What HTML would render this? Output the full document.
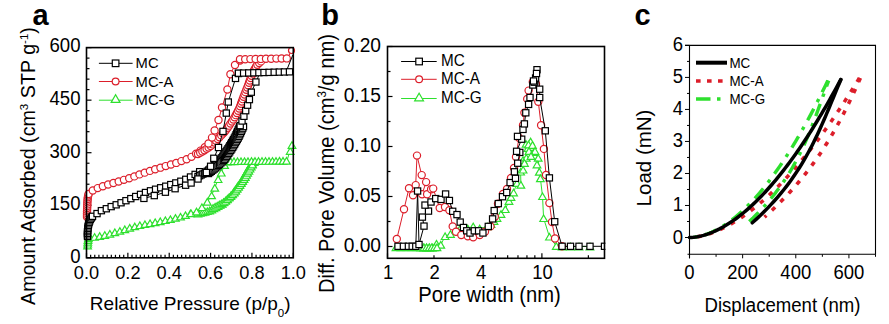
<!DOCTYPE html><html><head><meta charset="utf-8"><style>html,body{margin:0;padding:0;background:#fff;width:889px;height:324px;overflow:hidden}svg{display:block}</style></head><body><svg width="889" height="324" viewBox="0 0 889 324" font-family="Liberation Sans, sans-serif">
<rect width="889" height="324" fill="#fff"/>
<line x1="86.5" y1="257.8" x2="86.5" y2="252.8" stroke="#000000" stroke-width="1.2"/>
<line x1="90.64" y1="257.8" x2="90.64" y2="254.8" stroke="#000000" stroke-width="1.2"/>
<line x1="94.77" y1="257.8" x2="94.77" y2="254.8" stroke="#000000" stroke-width="1.2"/>
<line x1="98.91" y1="257.8" x2="98.91" y2="254.8" stroke="#000000" stroke-width="1.2"/>
<line x1="103.04" y1="257.8" x2="103.04" y2="254.8" stroke="#000000" stroke-width="1.2"/>
<line x1="107.18" y1="257.8" x2="107.18" y2="254.8" stroke="#000000" stroke-width="1.2"/>
<line x1="111.32" y1="257.8" x2="111.32" y2="254.8" stroke="#000000" stroke-width="1.2"/>
<line x1="115.45" y1="257.8" x2="115.45" y2="254.8" stroke="#000000" stroke-width="1.2"/>
<line x1="119.59" y1="257.8" x2="119.59" y2="254.8" stroke="#000000" stroke-width="1.2"/>
<line x1="123.72" y1="257.8" x2="123.72" y2="254.8" stroke="#000000" stroke-width="1.2"/>
<line x1="127.86" y1="257.8" x2="127.86" y2="252.8" stroke="#000000" stroke-width="1.2"/>
<line x1="132" y1="257.8" x2="132" y2="254.8" stroke="#000000" stroke-width="1.2"/>
<line x1="136.13" y1="257.8" x2="136.13" y2="254.8" stroke="#000000" stroke-width="1.2"/>
<line x1="140.27" y1="257.8" x2="140.27" y2="254.8" stroke="#000000" stroke-width="1.2"/>
<line x1="144.4" y1="257.8" x2="144.4" y2="254.8" stroke="#000000" stroke-width="1.2"/>
<line x1="148.54" y1="257.8" x2="148.54" y2="254.8" stroke="#000000" stroke-width="1.2"/>
<line x1="152.68" y1="257.8" x2="152.68" y2="254.8" stroke="#000000" stroke-width="1.2"/>
<line x1="156.81" y1="257.8" x2="156.81" y2="254.8" stroke="#000000" stroke-width="1.2"/>
<line x1="160.95" y1="257.8" x2="160.95" y2="254.8" stroke="#000000" stroke-width="1.2"/>
<line x1="165.08" y1="257.8" x2="165.08" y2="254.8" stroke="#000000" stroke-width="1.2"/>
<line x1="169.22" y1="257.8" x2="169.22" y2="252.8" stroke="#000000" stroke-width="1.2"/>
<line x1="173.36" y1="257.8" x2="173.36" y2="254.8" stroke="#000000" stroke-width="1.2"/>
<line x1="177.49" y1="257.8" x2="177.49" y2="254.8" stroke="#000000" stroke-width="1.2"/>
<line x1="181.63" y1="257.8" x2="181.63" y2="254.8" stroke="#000000" stroke-width="1.2"/>
<line x1="185.76" y1="257.8" x2="185.76" y2="254.8" stroke="#000000" stroke-width="1.2"/>
<line x1="189.9" y1="257.8" x2="189.9" y2="254.8" stroke="#000000" stroke-width="1.2"/>
<line x1="194.04" y1="257.8" x2="194.04" y2="254.8" stroke="#000000" stroke-width="1.2"/>
<line x1="198.17" y1="257.8" x2="198.17" y2="254.8" stroke="#000000" stroke-width="1.2"/>
<line x1="202.31" y1="257.8" x2="202.31" y2="254.8" stroke="#000000" stroke-width="1.2"/>
<line x1="206.44" y1="257.8" x2="206.44" y2="254.8" stroke="#000000" stroke-width="1.2"/>
<line x1="210.58" y1="257.8" x2="210.58" y2="252.8" stroke="#000000" stroke-width="1.2"/>
<line x1="214.72" y1="257.8" x2="214.72" y2="254.8" stroke="#000000" stroke-width="1.2"/>
<line x1="218.85" y1="257.8" x2="218.85" y2="254.8" stroke="#000000" stroke-width="1.2"/>
<line x1="222.99" y1="257.8" x2="222.99" y2="254.8" stroke="#000000" stroke-width="1.2"/>
<line x1="227.12" y1="257.8" x2="227.12" y2="254.8" stroke="#000000" stroke-width="1.2"/>
<line x1="231.26" y1="257.8" x2="231.26" y2="254.8" stroke="#000000" stroke-width="1.2"/>
<line x1="235.4" y1="257.8" x2="235.4" y2="254.8" stroke="#000000" stroke-width="1.2"/>
<line x1="239.53" y1="257.8" x2="239.53" y2="254.8" stroke="#000000" stroke-width="1.2"/>
<line x1="243.67" y1="257.8" x2="243.67" y2="254.8" stroke="#000000" stroke-width="1.2"/>
<line x1="247.8" y1="257.8" x2="247.8" y2="254.8" stroke="#000000" stroke-width="1.2"/>
<line x1="251.94" y1="257.8" x2="251.94" y2="252.8" stroke="#000000" stroke-width="1.2"/>
<line x1="256.08" y1="257.8" x2="256.08" y2="254.8" stroke="#000000" stroke-width="1.2"/>
<line x1="260.21" y1="257.8" x2="260.21" y2="254.8" stroke="#000000" stroke-width="1.2"/>
<line x1="264.35" y1="257.8" x2="264.35" y2="254.8" stroke="#000000" stroke-width="1.2"/>
<line x1="268.48" y1="257.8" x2="268.48" y2="254.8" stroke="#000000" stroke-width="1.2"/>
<line x1="272.62" y1="257.8" x2="272.62" y2="254.8" stroke="#000000" stroke-width="1.2"/>
<line x1="276.76" y1="257.8" x2="276.76" y2="254.8" stroke="#000000" stroke-width="1.2"/>
<line x1="280.89" y1="257.8" x2="280.89" y2="254.8" stroke="#000000" stroke-width="1.2"/>
<line x1="285.03" y1="257.8" x2="285.03" y2="254.8" stroke="#000000" stroke-width="1.2"/>
<line x1="289.16" y1="257.8" x2="289.16" y2="254.8" stroke="#000000" stroke-width="1.2"/>
<line x1="293.3" y1="257.8" x2="293.3" y2="252.8" stroke="#000000" stroke-width="1.2"/>
<line x1="86.5" y1="257.8" x2="91.5" y2="257.8" stroke="#000000" stroke-width="1.2"/>
<line x1="86.5" y1="247.29" x2="89.5" y2="247.29" stroke="#000000" stroke-width="1.2"/>
<line x1="86.5" y1="236.78" x2="89.5" y2="236.78" stroke="#000000" stroke-width="1.2"/>
<line x1="86.5" y1="226.27" x2="89.5" y2="226.27" stroke="#000000" stroke-width="1.2"/>
<line x1="86.5" y1="215.76" x2="89.5" y2="215.76" stroke="#000000" stroke-width="1.2"/>
<line x1="86.5" y1="205.25" x2="91.5" y2="205.25" stroke="#000000" stroke-width="1.2"/>
<line x1="86.5" y1="194.74" x2="89.5" y2="194.74" stroke="#000000" stroke-width="1.2"/>
<line x1="86.5" y1="184.23" x2="89.5" y2="184.23" stroke="#000000" stroke-width="1.2"/>
<line x1="86.5" y1="173.72" x2="89.5" y2="173.72" stroke="#000000" stroke-width="1.2"/>
<line x1="86.5" y1="163.21" x2="89.5" y2="163.21" stroke="#000000" stroke-width="1.2"/>
<line x1="86.5" y1="152.7" x2="91.5" y2="152.7" stroke="#000000" stroke-width="1.2"/>
<line x1="86.5" y1="142.19" x2="89.5" y2="142.19" stroke="#000000" stroke-width="1.2"/>
<line x1="86.5" y1="131.68" x2="89.5" y2="131.68" stroke="#000000" stroke-width="1.2"/>
<line x1="86.5" y1="121.17" x2="89.5" y2="121.17" stroke="#000000" stroke-width="1.2"/>
<line x1="86.5" y1="110.66" x2="89.5" y2="110.66" stroke="#000000" stroke-width="1.2"/>
<line x1="86.5" y1="100.15" x2="91.5" y2="100.15" stroke="#000000" stroke-width="1.2"/>
<line x1="86.5" y1="89.64" x2="89.5" y2="89.64" stroke="#000000" stroke-width="1.2"/>
<line x1="86.5" y1="79.13" x2="89.5" y2="79.13" stroke="#000000" stroke-width="1.2"/>
<line x1="86.5" y1="68.62" x2="89.5" y2="68.62" stroke="#000000" stroke-width="1.2"/>
<line x1="86.5" y1="58.11" x2="89.5" y2="58.11" stroke="#000000" stroke-width="1.2"/>
<line x1="86.5" y1="47.6" x2="91.5" y2="47.6" stroke="#000000" stroke-width="1.2"/>
<polyline points="87.6,245.5 87.8,241.5 88.3,238.5 89.5,236.5 92,237.2 96,236.8 100,236 104,235.2 110,233.7 116,232 121,230.6 132,227 143,224.5 157,222 171,219 183,216 191,213.2" fill="none" stroke="#2ee02e" stroke-width="1.0" stroke-linejoin="round" />
<polyline points="191,213.2 196.5,211.6 201.9,207.2 207.3,201.8 211.6,195.4 214.8,187.8 218.1,179.2 221.3,172.7 224.6,165.1 227,161.3" fill="none" stroke="#2ee02e" stroke-width="1.0" stroke-linejoin="round" />
<polyline points="198,213.5 210,210.5 222,204 232,194.5 241.5,181 250,166 255,161.5" fill="none" stroke="#2ee02e" stroke-width="1.0" stroke-linejoin="round" />
<polyline points="227,161.3 287,160.8" fill="none" stroke="#2ee02e" stroke-width="1.0" stroke-linejoin="round" />
<polyline points="287,160.8 292.4,142.3" fill="none" stroke="#2ee02e" stroke-width="1.0" stroke-linejoin="round" />
<path d="M83.8,248.79 L87.6,242.21 L91.4,248.79 Z" fill="#fff" stroke="#2ee02e" stroke-width="1.2"/>
<path d="M83.89,246.99 L87.69,240.41 L91.49,246.99 Z" fill="#fff" stroke="#2ee02e" stroke-width="1.2"/>
<path d="M83.98,245.2 L87.78,238.61 L91.58,245.2 Z" fill="#fff" stroke="#2ee02e" stroke-width="1.2"/>
<path d="M84.23,243.41 L88.03,236.83 L91.83,243.41 Z" fill="#fff" stroke="#2ee02e" stroke-width="1.2"/>
<path d="M84.58,241.66 L88.38,235.08 L92.18,241.66 Z" fill="#fff" stroke="#2ee02e" stroke-width="1.2"/>
<path d="M85.51,240.12 L89.31,233.53 L93.11,240.12 Z" fill="#fff" stroke="#2ee02e" stroke-width="1.2"/>
<path d="M85.7,239.79 L89.5,233.21 L93.3,239.79 Z" fill="#fff" stroke="#2ee02e" stroke-width="1.2"/>
<path d="M90.79,240.23 L94.59,233.65 L98.39,240.23 Z" fill="#fff" stroke="#2ee02e" stroke-width="1.2"/>
<path d="M95.91,239.35 L99.71,232.77 L103.51,239.35 Z" fill="#fff" stroke="#2ee02e" stroke-width="1.2"/>
<path d="M101,238.29 L104.8,231.71 L108.6,238.29 Z" fill="#fff" stroke="#2ee02e" stroke-width="1.2"/>
<path d="M106.05,237.03 L109.85,230.45 L113.65,237.03 Z" fill="#fff" stroke="#2ee02e" stroke-width="1.2"/>
<path d="M111.05,235.62 L114.85,229.04 L118.65,235.62 Z" fill="#fff" stroke="#2ee02e" stroke-width="1.2"/>
<path d="M116.06,234.21 L119.86,227.63 L123.66,234.21 Z" fill="#fff" stroke="#2ee02e" stroke-width="1.2"/>
<path d="M121.01,232.64 L124.81,226.06 L128.61,232.64 Z" fill="#fff" stroke="#2ee02e" stroke-width="1.2"/>
<path d="M125.96,231.03 L129.76,224.44 L133.56,231.03 Z" fill="#fff" stroke="#2ee02e" stroke-width="1.2"/>
<path d="M130.97,229.66 L134.77,223.08 L138.57,229.66 Z" fill="#fff" stroke="#2ee02e" stroke-width="1.2"/>
<path d="M136.04,228.51 L139.84,221.93 L143.64,228.51 Z" fill="#fff" stroke="#2ee02e" stroke-width="1.2"/>
<path d="M141.13,227.45 L144.93,220.87 L148.73,227.45 Z" fill="#fff" stroke="#2ee02e" stroke-width="1.2"/>
<path d="M146.25,226.53 L150.05,219.95 L153.85,226.53 Z" fill="#fff" stroke="#2ee02e" stroke-width="1.2"/>
<path d="M151.37,225.62 L155.17,219.04 L158.97,225.62 Z" fill="#fff" stroke="#2ee02e" stroke-width="1.2"/>
<path d="M156.46,224.59 L160.26,218.01 L164.06,224.59 Z" fill="#fff" stroke="#2ee02e" stroke-width="1.2"/>
<path d="M161.55,223.5 L165.35,216.92 L169.15,223.5 Z" fill="#fff" stroke="#2ee02e" stroke-width="1.2"/>
<path d="M166.63,222.41 L170.43,215.83 L174.23,222.41 Z" fill="#fff" stroke="#2ee02e" stroke-width="1.2"/>
<path d="M171.68,221.17 L175.48,214.59 L179.28,221.17 Z" fill="#fff" stroke="#2ee02e" stroke-width="1.2"/>
<path d="M176.73,219.91 L180.53,213.33 L184.33,219.91 Z" fill="#fff" stroke="#2ee02e" stroke-width="1.2"/>
<path d="M181.7,218.42 L185.5,211.83 L189.3,218.42 Z" fill="#fff" stroke="#2ee02e" stroke-width="1.2"/>
<path d="M186.61,216.7 L190.41,210.12 L194.21,216.7 Z" fill="#fff" stroke="#2ee02e" stroke-width="1.2"/>
<path d="M194.2,216.79 L198,210.21 L201.8,216.79 Z" fill="#fff" stroke="#2ee02e" stroke-width="1.2"/>
<path d="M196.53,216.21 L200.33,209.63 L204.13,216.21 Z" fill="#fff" stroke="#2ee02e" stroke-width="1.2"/>
<path d="M198.86,215.63 L202.66,209.05 L206.46,215.63 Z" fill="#fff" stroke="#2ee02e" stroke-width="1.2"/>
<path d="M201.19,215.04 L204.99,208.46 L208.79,215.04 Z" fill="#fff" stroke="#2ee02e" stroke-width="1.2"/>
<path d="M203.51,214.46 L207.31,207.88 L211.11,214.46 Z" fill="#fff" stroke="#2ee02e" stroke-width="1.2"/>
<path d="M205.84,213.88 L209.64,207.3 L213.44,213.88 Z" fill="#fff" stroke="#2ee02e" stroke-width="1.2"/>
<path d="M207.99,212.82 L211.79,206.24 L215.59,212.82 Z" fill="#fff" stroke="#2ee02e" stroke-width="1.2"/>
<path d="M210.1,211.68 L213.9,205.1 L217.7,211.68 Z" fill="#fff" stroke="#2ee02e" stroke-width="1.2"/>
<path d="M212.21,210.54 L216.01,203.96 L219.81,210.54 Z" fill="#fff" stroke="#2ee02e" stroke-width="1.2"/>
<path d="M214.32,209.39 L218.12,202.81 L221.92,209.39 Z" fill="#fff" stroke="#2ee02e" stroke-width="1.2"/>
<path d="M216.43,208.25 L220.23,201.67 L224.03,208.25 Z" fill="#fff" stroke="#2ee02e" stroke-width="1.2"/>
<path d="M218.48,207.03 L222.28,200.45 L226.08,207.03 Z" fill="#fff" stroke="#2ee02e" stroke-width="1.2"/>
<path d="M220.22,205.37 L224.02,198.79 L227.82,205.37 Z" fill="#fff" stroke="#2ee02e" stroke-width="1.2"/>
<path d="M221.96,203.72 L225.76,197.14 L229.56,203.72 Z" fill="#fff" stroke="#2ee02e" stroke-width="1.2"/>
<path d="M223.7,202.07 L227.5,195.49 L231.3,202.07 Z" fill="#fff" stroke="#2ee02e" stroke-width="1.2"/>
<path d="M225.44,200.41 L229.24,193.83 L233.04,200.41 Z" fill="#fff" stroke="#2ee02e" stroke-width="1.2"/>
<path d="M227.18,198.76 L230.98,192.18 L234.78,198.76 Z" fill="#fff" stroke="#2ee02e" stroke-width="1.2"/>
<path d="M228.77,196.98 L232.57,190.4 L236.37,196.98 Z" fill="#fff" stroke="#2ee02e" stroke-width="1.2"/>
<path d="M230.15,195.02 L233.95,188.44 L237.75,195.02 Z" fill="#fff" stroke="#2ee02e" stroke-width="1.2"/>
<path d="M231.53,193.06 L235.33,186.47 L239.13,193.06 Z" fill="#fff" stroke="#2ee02e" stroke-width="1.2"/>
<path d="M232.91,191.09 L236.71,184.51 L240.51,191.09 Z" fill="#fff" stroke="#2ee02e" stroke-width="1.2"/>
<path d="M234.29,189.13 L238.09,182.55 L241.89,189.13 Z" fill="#fff" stroke="#2ee02e" stroke-width="1.2"/>
<path d="M235.68,187.17 L239.48,180.59 L243.28,187.17 Z" fill="#fff" stroke="#2ee02e" stroke-width="1.2"/>
<path d="M237.06,185.2 L240.86,178.62 L244.66,185.2 Z" fill="#fff" stroke="#2ee02e" stroke-width="1.2"/>
<path d="M238.33,183.17 L242.13,176.59 L245.93,183.17 Z" fill="#fff" stroke="#2ee02e" stroke-width="1.2"/>
<path d="M239.52,181.09 L243.32,174.51 L247.12,181.09 Z" fill="#fff" stroke="#2ee02e" stroke-width="1.2"/>
<path d="M240.7,179 L244.5,172.42 L248.3,179 Z" fill="#fff" stroke="#2ee02e" stroke-width="1.2"/>
<path d="M241.88,176.91 L245.68,170.33 L249.48,176.91 Z" fill="#fff" stroke="#2ee02e" stroke-width="1.2"/>
<path d="M243.07,174.82 L246.87,168.24 L250.67,174.82 Z" fill="#fff" stroke="#2ee02e" stroke-width="1.2"/>
<path d="M244.25,172.73 L248.05,166.15 L251.85,172.73 Z" fill="#fff" stroke="#2ee02e" stroke-width="1.2"/>
<path d="M245.43,170.65 L249.23,164.06 L253.03,170.65 Z" fill="#fff" stroke="#2ee02e" stroke-width="1.2"/>
<path d="M246.83,168.73 L250.63,162.15 L254.43,168.73 Z" fill="#fff" stroke="#2ee02e" stroke-width="1.2"/>
<path d="M248.61,167.12 L252.41,160.54 L256.21,167.12 Z" fill="#fff" stroke="#2ee02e" stroke-width="1.2"/>
<path d="M250.39,165.52 L254.19,158.94 L257.99,165.52 Z" fill="#fff" stroke="#2ee02e" stroke-width="1.2"/>
<polyline points="213,208 225,201.5 235,192 244.5,178.5 253,163.5 258,159" fill="none" stroke="#2ee02e" stroke-width="1.0" stroke-linejoin="round" />
<path d="M209.2,211.29 L213,204.71 L216.8,211.29 Z" fill="#fff" stroke="#2ee02e" stroke-width="1.2"/>
<path d="M211.31,210.15 L215.11,203.57 L218.91,210.15 Z" fill="#fff" stroke="#2ee02e" stroke-width="1.2"/>
<path d="M213.42,209 L217.22,202.42 L221.02,209 Z" fill="#fff" stroke="#2ee02e" stroke-width="1.2"/>
<path d="M215.53,207.86 L219.33,201.28 L223.13,207.86 Z" fill="#fff" stroke="#2ee02e" stroke-width="1.2"/>
<path d="M217.64,206.72 L221.44,200.14 L225.24,206.72 Z" fill="#fff" stroke="#2ee02e" stroke-width="1.2"/>
<path d="M219.75,205.58 L223.55,198.99 L227.35,205.58 Z" fill="#fff" stroke="#2ee02e" stroke-width="1.2"/>
<path d="M221.75,204.27 L225.55,197.69 L229.35,204.27 Z" fill="#fff" stroke="#2ee02e" stroke-width="1.2"/>
<path d="M223.49,202.62 L227.29,196.04 L231.09,202.62 Z" fill="#fff" stroke="#2ee02e" stroke-width="1.2"/>
<path d="M225.23,200.97 L229.03,194.38 L232.83,200.97 Z" fill="#fff" stroke="#2ee02e" stroke-width="1.2"/>
<path d="M226.97,199.31 L230.77,192.73 L234.57,199.31 Z" fill="#fff" stroke="#2ee02e" stroke-width="1.2"/>
<path d="M228.71,197.66 L232.51,191.08 L236.31,197.66 Z" fill="#fff" stroke="#2ee02e" stroke-width="1.2"/>
<path d="M230.45,196.01 L234.25,189.43 L238.05,196.01 Z" fill="#fff" stroke="#2ee02e" stroke-width="1.2"/>
<path d="M231.98,194.18 L235.78,187.6 L239.58,194.18 Z" fill="#fff" stroke="#2ee02e" stroke-width="1.2"/>
<path d="M233.36,192.22 L237.16,185.63 L240.96,192.22 Z" fill="#fff" stroke="#2ee02e" stroke-width="1.2"/>
<path d="M234.74,190.25 L238.54,183.67 L242.34,190.25 Z" fill="#fff" stroke="#2ee02e" stroke-width="1.2"/>
<path d="M236.13,188.29 L239.93,181.71 L243.73,188.29 Z" fill="#fff" stroke="#2ee02e" stroke-width="1.2"/>
<path d="M237.51,186.33 L241.31,179.75 L245.11,186.33 Z" fill="#fff" stroke="#2ee02e" stroke-width="1.2"/>
<path d="M238.89,184.37 L242.69,177.78 L246.49,184.37 Z" fill="#fff" stroke="#2ee02e" stroke-width="1.2"/>
<path d="M240.27,182.4 L244.07,175.82 L247.87,182.4 Z" fill="#fff" stroke="#2ee02e" stroke-width="1.2"/>
<path d="M241.51,180.35 L245.31,173.77 L249.11,180.35 Z" fill="#fff" stroke="#2ee02e" stroke-width="1.2"/>
<path d="M242.7,178.27 L246.5,171.68 L250.3,178.27 Z" fill="#fff" stroke="#2ee02e" stroke-width="1.2"/>
<path d="M243.88,176.18 L247.68,169.6 L251.48,176.18 Z" fill="#fff" stroke="#2ee02e" stroke-width="1.2"/>
<path d="M245.06,174.09 L248.86,167.51 L252.66,174.09 Z" fill="#fff" stroke="#2ee02e" stroke-width="1.2"/>
<path d="M246.25,172 L250.05,165.42 L253.85,172 Z" fill="#fff" stroke="#2ee02e" stroke-width="1.2"/>
<path d="M247.43,169.91 L251.23,163.33 L255.03,169.91 Z" fill="#fff" stroke="#2ee02e" stroke-width="1.2"/>
<path d="M248.61,167.83 L252.41,161.24 L256.21,167.83 Z" fill="#fff" stroke="#2ee02e" stroke-width="1.2"/>
<path d="M187.2,216.49 L191,209.91 L194.8,216.49 Z" fill="#fff" stroke="#2ee02e" stroke-width="1.2"/>
<path d="M192.7,214.89 L196.5,208.31 L200.3,214.89 Z" fill="#fff" stroke="#2ee02e" stroke-width="1.2"/>
<path d="M198.1,210.49 L201.9,203.91 L205.7,210.49 Z" fill="#fff" stroke="#2ee02e" stroke-width="1.2"/>
<path d="M203.5,205.09 L207.3,198.51 L211.1,205.09 Z" fill="#fff" stroke="#2ee02e" stroke-width="1.2"/>
<path d="M207.8,198.69 L211.6,192.11 L215.4,198.69 Z" fill="#fff" stroke="#2ee02e" stroke-width="1.2"/>
<path d="M211,191.09 L214.8,184.51 L218.6,191.09 Z" fill="#fff" stroke="#2ee02e" stroke-width="1.2"/>
<path d="M214.3,182.49 L218.1,175.91 L221.9,182.49 Z" fill="#fff" stroke="#2ee02e" stroke-width="1.2"/>
<path d="M217.5,175.99 L221.3,169.41 L225.1,175.99 Z" fill="#fff" stroke="#2ee02e" stroke-width="1.2"/>
<path d="M220.8,168.39 L224.6,161.81 L228.4,168.39 Z" fill="#fff" stroke="#2ee02e" stroke-width="1.2"/>
<path d="M223.2,164.59 L227,158.01 L230.8,164.59 Z" fill="#fff" stroke="#2ee02e" stroke-width="1.2"/>
<path d="M223.2,164.59 L227,158.01 L230.8,164.59 Z" fill="#fff" stroke="#2ee02e" stroke-width="1.2"/>
<path d="M226.7,164.56 L230.5,157.98 L234.3,164.56 Z" fill="#fff" stroke="#2ee02e" stroke-width="1.2"/>
<path d="M230.2,164.53 L234,157.95 L237.8,164.53 Z" fill="#fff" stroke="#2ee02e" stroke-width="1.2"/>
<path d="M233.7,164.5 L237.5,157.92 L241.3,164.5 Z" fill="#fff" stroke="#2ee02e" stroke-width="1.2"/>
<path d="M237.2,164.47 L241,157.89 L244.8,164.47 Z" fill="#fff" stroke="#2ee02e" stroke-width="1.2"/>
<path d="M240.7,164.44 L244.5,157.86 L248.3,164.44 Z" fill="#fff" stroke="#2ee02e" stroke-width="1.2"/>
<path d="M244.2,164.42 L248,157.83 L251.8,164.42 Z" fill="#fff" stroke="#2ee02e" stroke-width="1.2"/>
<path d="M247.7,164.39 L251.5,157.81 L255.3,164.39 Z" fill="#fff" stroke="#2ee02e" stroke-width="1.2"/>
<path d="M251.2,164.36 L255,157.78 L258.8,164.36 Z" fill="#fff" stroke="#2ee02e" stroke-width="1.2"/>
<path d="M254.7,164.33 L258.5,157.75 L262.3,164.33 Z" fill="#fff" stroke="#2ee02e" stroke-width="1.2"/>
<path d="M258.2,164.3 L262,157.72 L265.8,164.3 Z" fill="#fff" stroke="#2ee02e" stroke-width="1.2"/>
<path d="M261.7,164.27 L265.5,157.69 L269.3,164.27 Z" fill="#fff" stroke="#2ee02e" stroke-width="1.2"/>
<path d="M265.2,164.24 L269,157.66 L272.8,164.24 Z" fill="#fff" stroke="#2ee02e" stroke-width="1.2"/>
<path d="M268.7,164.21 L272.5,157.63 L276.3,164.21 Z" fill="#fff" stroke="#2ee02e" stroke-width="1.2"/>
<path d="M272.2,164.18 L276,157.6 L279.8,164.18 Z" fill="#fff" stroke="#2ee02e" stroke-width="1.2"/>
<path d="M275.7,164.15 L279.5,157.57 L283.3,164.15 Z" fill="#fff" stroke="#2ee02e" stroke-width="1.2"/>
<path d="M279.2,164.12 L283,157.54 L286.8,164.12 Z" fill="#fff" stroke="#2ee02e" stroke-width="1.2"/>
<path d="M282.7,164.09 L286.5,157.51 L290.3,164.09 Z" fill="#fff" stroke="#2ee02e" stroke-width="1.2"/>
<path d="M286.4,154.29 L290.2,147.71 L294,154.29 Z" fill="#fff" stroke="#2ee02e" stroke-width="1.2"/>
<path d="M288.2,148.29 L292,141.71 L295.8,148.29 Z" fill="#fff" stroke="#2ee02e" stroke-width="1.2"/>
<polyline points="87,217 87,212 87.2,207 87.4,202 87.8,197.5 88.6,194 91,191.5 93.9,189.9 98.8,187.6 104,185.8 110,184 116,182.3 121,180.8 128,178.6 134.6,176.3 140,174.2 152,170.2 164.7,166.4 176,163 189,158.5 194.3,155 199.8,151.2 204.4,147.6 208.5,143.5" fill="none" stroke="#dc1e2a" stroke-width="1.0" stroke-linejoin="round" />
<polyline points="208.5,143.5 212,137.6 214.6,130.5 218.5,120 222,107.5 227.4,89.5 230.4,74.3 235,65 240,60.5" fill="none" stroke="#dc1e2a" stroke-width="1.0" stroke-linejoin="round" />
<polyline points="198,154 205,150 212,145 225,131.5 234,118.5 239.5,108 243.5,97 247.5,87 250,80 253,72 257,65 262,60.5" fill="none" stroke="#dc1e2a" stroke-width="1.0" stroke-linejoin="round" />
<polyline points="240,59.3 287.5,58.4" fill="none" stroke="#dc1e2a" stroke-width="1.0" stroke-linejoin="round" />
<polyline points="287.5,59.2 291.5,50" fill="none" stroke="#dc1e2a" stroke-width="1.0" stroke-linejoin="round" />
<circle cx="87" cy="217" r="3.6" fill="#fff" stroke="#dc1e2a" stroke-width="1.2"/>
<circle cx="87" cy="215.2" r="3.6" fill="#fff" stroke="#dc1e2a" stroke-width="1.2"/>
<circle cx="87" cy="213.4" r="3.6" fill="#fff" stroke="#dc1e2a" stroke-width="1.2"/>
<circle cx="87.02" cy="211.6" r="3.6" fill="#fff" stroke="#dc1e2a" stroke-width="1.2"/>
<circle cx="87.09" cy="209.8" r="3.6" fill="#fff" stroke="#dc1e2a" stroke-width="1.2"/>
<circle cx="87.16" cy="208" r="3.6" fill="#fff" stroke="#dc1e2a" stroke-width="1.2"/>
<circle cx="87.23" cy="206.2" r="3.6" fill="#fff" stroke="#dc1e2a" stroke-width="1.2"/>
<circle cx="87.3" cy="204.41" r="3.6" fill="#fff" stroke="#dc1e2a" stroke-width="1.2"/>
<circle cx="87.38" cy="202.61" r="3.6" fill="#fff" stroke="#dc1e2a" stroke-width="1.2"/>
<circle cx="87.51" cy="200.81" r="3.6" fill="#fff" stroke="#dc1e2a" stroke-width="1.2"/>
<circle cx="87.66" cy="199.02" r="3.6" fill="#fff" stroke="#dc1e2a" stroke-width="1.2"/>
<circle cx="87.86" cy="197.23" r="3.6" fill="#fff" stroke="#dc1e2a" stroke-width="1.2"/>
<circle cx="88.26" cy="195.48" r="3.6" fill="#fff" stroke="#dc1e2a" stroke-width="1.2"/>
<circle cx="88.6" cy="194" r="3.6" fill="#fff" stroke="#dc1e2a" stroke-width="1.2"/>
<circle cx="92.78" cy="190.52" r="3.6" fill="#fff" stroke="#dc1e2a" stroke-width="1.2"/>
<circle cx="97.72" cy="188.11" r="3.6" fill="#fff" stroke="#dc1e2a" stroke-width="1.2"/>
<circle cx="102.87" cy="186.19" r="3.6" fill="#fff" stroke="#dc1e2a" stroke-width="1.2"/>
<circle cx="108.13" cy="184.56" r="3.6" fill="#fff" stroke="#dc1e2a" stroke-width="1.2"/>
<circle cx="113.41" cy="183.03" r="3.6" fill="#fff" stroke="#dc1e2a" stroke-width="1.2"/>
<circle cx="118.69" cy="181.49" r="3.6" fill="#fff" stroke="#dc1e2a" stroke-width="1.2"/>
<circle cx="123.94" cy="179.87" r="3.6" fill="#fff" stroke="#dc1e2a" stroke-width="1.2"/>
<circle cx="129.18" cy="178.19" r="3.6" fill="#fff" stroke="#dc1e2a" stroke-width="1.2"/>
<circle cx="134.37" cy="176.38" r="3.6" fill="#fff" stroke="#dc1e2a" stroke-width="1.2"/>
<circle cx="139.5" cy="174.39" r="3.6" fill="#fff" stroke="#dc1e2a" stroke-width="1.2"/>
<circle cx="144.71" cy="172.63" r="3.6" fill="#fff" stroke="#dc1e2a" stroke-width="1.2"/>
<circle cx="149.93" cy="170.89" r="3.6" fill="#fff" stroke="#dc1e2a" stroke-width="1.2"/>
<circle cx="155.18" cy="169.25" r="3.6" fill="#fff" stroke="#dc1e2a" stroke-width="1.2"/>
<circle cx="160.45" cy="167.67" r="3.6" fill="#fff" stroke="#dc1e2a" stroke-width="1.2"/>
<circle cx="165.71" cy="166.09" r="3.6" fill="#fff" stroke="#dc1e2a" stroke-width="1.2"/>
<circle cx="170.98" cy="164.51" r="3.6" fill="#fff" stroke="#dc1e2a" stroke-width="1.2"/>
<circle cx="176.25" cy="162.92" r="3.6" fill="#fff" stroke="#dc1e2a" stroke-width="1.2"/>
<circle cx="181.44" cy="161.12" r="3.6" fill="#fff" stroke="#dc1e2a" stroke-width="1.2"/>
<circle cx="186.64" cy="159.32" r="3.6" fill="#fff" stroke="#dc1e2a" stroke-width="1.2"/>
<circle cx="191.51" cy="156.85" r="3.6" fill="#fff" stroke="#dc1e2a" stroke-width="1.2"/>
<circle cx="196.07" cy="153.78" r="3.6" fill="#fff" stroke="#dc1e2a" stroke-width="1.2"/>
<circle cx="200.56" cy="150.6" r="3.6" fill="#fff" stroke="#dc1e2a" stroke-width="1.2"/>
<circle cx="204.84" cy="147.16" r="3.6" fill="#fff" stroke="#dc1e2a" stroke-width="1.2"/>
<circle cx="198" cy="154" r="3.6" fill="#fff" stroke="#dc1e2a" stroke-width="1.2"/>
<circle cx="200.17" cy="152.76" r="3.6" fill="#fff" stroke="#dc1e2a" stroke-width="1.2"/>
<circle cx="202.34" cy="151.52" r="3.6" fill="#fff" stroke="#dc1e2a" stroke-width="1.2"/>
<circle cx="204.51" cy="150.28" r="3.6" fill="#fff" stroke="#dc1e2a" stroke-width="1.2"/>
<circle cx="206.58" cy="148.87" r="3.6" fill="#fff" stroke="#dc1e2a" stroke-width="1.2"/>
<circle cx="208.61" cy="147.42" r="3.6" fill="#fff" stroke="#dc1e2a" stroke-width="1.2"/>
<circle cx="210.65" cy="145.97" r="3.6" fill="#fff" stroke="#dc1e2a" stroke-width="1.2"/>
<circle cx="212.58" cy="144.4" r="3.6" fill="#fff" stroke="#dc1e2a" stroke-width="1.2"/>
<circle cx="214.31" cy="142.6" r="3.6" fill="#fff" stroke="#dc1e2a" stroke-width="1.2"/>
<circle cx="216.05" cy="140.8" r="3.6" fill="#fff" stroke="#dc1e2a" stroke-width="1.2"/>
<circle cx="217.78" cy="139" r="3.6" fill="#fff" stroke="#dc1e2a" stroke-width="1.2"/>
<circle cx="219.52" cy="137.2" r="3.6" fill="#fff" stroke="#dc1e2a" stroke-width="1.2"/>
<circle cx="221.25" cy="135.39" r="3.6" fill="#fff" stroke="#dc1e2a" stroke-width="1.2"/>
<circle cx="222.98" cy="133.59" r="3.6" fill="#fff" stroke="#dc1e2a" stroke-width="1.2"/>
<circle cx="224.72" cy="131.79" r="3.6" fill="#fff" stroke="#dc1e2a" stroke-width="1.2"/>
<circle cx="226.19" cy="129.78" r="3.6" fill="#fff" stroke="#dc1e2a" stroke-width="1.2"/>
<circle cx="227.61" cy="127.72" r="3.6" fill="#fff" stroke="#dc1e2a" stroke-width="1.2"/>
<circle cx="229.04" cy="125.67" r="3.6" fill="#fff" stroke="#dc1e2a" stroke-width="1.2"/>
<circle cx="230.46" cy="123.61" r="3.6" fill="#fff" stroke="#dc1e2a" stroke-width="1.2"/>
<circle cx="231.88" cy="121.56" r="3.6" fill="#fff" stroke="#dc1e2a" stroke-width="1.2"/>
<circle cx="233.31" cy="119.5" r="3.6" fill="#fff" stroke="#dc1e2a" stroke-width="1.2"/>
<circle cx="234.6" cy="117.36" r="3.6" fill="#fff" stroke="#dc1e2a" stroke-width="1.2"/>
<circle cx="235.76" cy="115.15" r="3.6" fill="#fff" stroke="#dc1e2a" stroke-width="1.2"/>
<circle cx="236.92" cy="112.93" r="3.6" fill="#fff" stroke="#dc1e2a" stroke-width="1.2"/>
<circle cx="238.08" cy="110.72" r="3.6" fill="#fff" stroke="#dc1e2a" stroke-width="1.2"/>
<circle cx="239.24" cy="108.51" r="3.6" fill="#fff" stroke="#dc1e2a" stroke-width="1.2"/>
<circle cx="240.16" cy="106.19" r="3.6" fill="#fff" stroke="#dc1e2a" stroke-width="1.2"/>
<circle cx="241.01" cy="103.84" r="3.6" fill="#fff" stroke="#dc1e2a" stroke-width="1.2"/>
<circle cx="241.87" cy="101.49" r="3.6" fill="#fff" stroke="#dc1e2a" stroke-width="1.2"/>
<circle cx="242.72" cy="99.14" r="3.6" fill="#fff" stroke="#dc1e2a" stroke-width="1.2"/>
<circle cx="243.58" cy="96.79" r="3.6" fill="#fff" stroke="#dc1e2a" stroke-width="1.2"/>
<circle cx="244.51" cy="94.47" r="3.6" fill="#fff" stroke="#dc1e2a" stroke-width="1.2"/>
<circle cx="245.44" cy="92.15" r="3.6" fill="#fff" stroke="#dc1e2a" stroke-width="1.2"/>
<circle cx="246.37" cy="89.83" r="3.6" fill="#fff" stroke="#dc1e2a" stroke-width="1.2"/>
<circle cx="247.3" cy="87.51" r="3.6" fill="#fff" stroke="#dc1e2a" stroke-width="1.2"/>
<circle cx="248.16" cy="85.16" r="3.6" fill="#fff" stroke="#dc1e2a" stroke-width="1.2"/>
<circle cx="249" cy="82.81" r="3.6" fill="#fff" stroke="#dc1e2a" stroke-width="1.2"/>
<circle cx="249.84" cy="80.45" r="3.6" fill="#fff" stroke="#dc1e2a" stroke-width="1.2"/>
<circle cx="250.71" cy="78.11" r="3.6" fill="#fff" stroke="#dc1e2a" stroke-width="1.2"/>
<circle cx="251.59" cy="75.77" r="3.6" fill="#fff" stroke="#dc1e2a" stroke-width="1.2"/>
<circle cx="252.47" cy="73.43" r="3.6" fill="#fff" stroke="#dc1e2a" stroke-width="1.2"/>
<circle cx="253.48" cy="71.15" r="3.6" fill="#fff" stroke="#dc1e2a" stroke-width="1.2"/>
<circle cx="254.73" cy="68.98" r="3.6" fill="#fff" stroke="#dc1e2a" stroke-width="1.2"/>
<circle cx="255.97" cy="66.81" r="3.6" fill="#fff" stroke="#dc1e2a" stroke-width="1.2"/>
<circle cx="257.31" cy="64.72" r="3.6" fill="#fff" stroke="#dc1e2a" stroke-width="1.2"/>
<circle cx="259.17" cy="63.05" r="3.6" fill="#fff" stroke="#dc1e2a" stroke-width="1.2"/>
<circle cx="261.02" cy="61.38" r="3.6" fill="#fff" stroke="#dc1e2a" stroke-width="1.2"/>
<circle cx="208.5" cy="143.5" r="3.6" fill="#fff" stroke="#dc1e2a" stroke-width="1.2"/>
<circle cx="212" cy="137.6" r="3.6" fill="#fff" stroke="#dc1e2a" stroke-width="1.2"/>
<circle cx="214.6" cy="130.5" r="3.6" fill="#fff" stroke="#dc1e2a" stroke-width="1.2"/>
<circle cx="218.5" cy="120" r="3.6" fill="#fff" stroke="#dc1e2a" stroke-width="1.2"/>
<circle cx="222" cy="107.5" r="3.6" fill="#fff" stroke="#dc1e2a" stroke-width="1.2"/>
<circle cx="227.4" cy="89.5" r="3.6" fill="#fff" stroke="#dc1e2a" stroke-width="1.2"/>
<circle cx="230.4" cy="74.3" r="3.6" fill="#fff" stroke="#dc1e2a" stroke-width="1.2"/>
<circle cx="235" cy="65" r="3.6" fill="#fff" stroke="#dc1e2a" stroke-width="1.2"/>
<circle cx="240" cy="60.5" r="3.6" fill="#fff" stroke="#dc1e2a" stroke-width="1.2"/>
<circle cx="240" cy="59.3" r="3.6" fill="#fff" stroke="#dc1e2a" stroke-width="1.2"/>
<circle cx="245.2" cy="59.2" r="3.6" fill="#fff" stroke="#dc1e2a" stroke-width="1.2"/>
<circle cx="250.4" cy="59.1" r="3.6" fill="#fff" stroke="#dc1e2a" stroke-width="1.2"/>
<circle cx="255.6" cy="59" r="3.6" fill="#fff" stroke="#dc1e2a" stroke-width="1.2"/>
<circle cx="260.8" cy="58.91" r="3.6" fill="#fff" stroke="#dc1e2a" stroke-width="1.2"/>
<circle cx="266" cy="58.81" r="3.6" fill="#fff" stroke="#dc1e2a" stroke-width="1.2"/>
<circle cx="271.19" cy="58.71" r="3.6" fill="#fff" stroke="#dc1e2a" stroke-width="1.2"/>
<circle cx="276.39" cy="58.61" r="3.6" fill="#fff" stroke="#dc1e2a" stroke-width="1.2"/>
<circle cx="281.59" cy="58.51" r="3.6" fill="#fff" stroke="#dc1e2a" stroke-width="1.2"/>
<circle cx="286.79" cy="58.41" r="3.6" fill="#fff" stroke="#dc1e2a" stroke-width="1.2"/>
<circle cx="291.5" cy="50.5" r="3" fill="#fff" stroke="#dc1e2a" stroke-width="1.2"/>
<polyline points="87.5,236.5 87.5,232 88,227 89,222.5 90.5,219 92.5,216.3 95.9,214.5 100,211.2 106.2,208.8 111.2,206.6 117.3,204.4 122.3,202.2 132.8,197.8 142.5,193.5 152.9,190 163.3,187 173.8,183.6 184.2,180.1 192.5,176 200.8,171" fill="none" stroke="#000000" stroke-width="1.0" stroke-linejoin="round" />
<polyline points="143.9,198.4 154.3,195.6 165.4,192.2 175.1,188.7 185.6,185.2 191.1,183 198,179 206.4,172.5 210.6,166.3 213.8,158.3 218.5,147.5 223,131.4 226.3,113.1 228.3,102 235.5,78.4 238.5,73.5" fill="none" stroke="#000000" stroke-width="1.0" stroke-linejoin="round" />
<polyline points="198,176.5 205,173 212,167.5 221,159 228.5,148 235,137 240.2,125.6 242,121 243.9,116.3 245.7,110.7 247.6,105.2 249.4,99.6 251.3,92.2 255.9,82 259.6,73.7" fill="none" stroke="#000000" stroke-width="1.0" stroke-linejoin="round" />
<polyline points="238.5,73.2 290.5,71.8" fill="none" stroke="#000000" stroke-width="1.0" stroke-linejoin="round" />
<polyline points="286,72 292.8,55" fill="none" stroke="#000000" stroke-width="1.0" stroke-linejoin="round" />
<rect x="84.4" y="233.4" width="6.2" height="6.2" fill="#fff" stroke="#000000" stroke-width="1.2"/>
<rect x="84.4" y="231.8" width="6.2" height="6.2" fill="#fff" stroke="#000000" stroke-width="1.2"/>
<rect x="84.4" y="230.2" width="6.2" height="6.2" fill="#fff" stroke="#000000" stroke-width="1.2"/>
<rect x="84.43" y="228.6" width="6.2" height="6.2" fill="#fff" stroke="#000000" stroke-width="1.2"/>
<rect x="84.59" y="227.01" width="6.2" height="6.2" fill="#fff" stroke="#000000" stroke-width="1.2"/>
<rect x="84.75" y="225.42" width="6.2" height="6.2" fill="#fff" stroke="#000000" stroke-width="1.2"/>
<rect x="84.92" y="223.83" width="6.2" height="6.2" fill="#fff" stroke="#000000" stroke-width="1.2"/>
<rect x="85.26" y="222.26" width="6.2" height="6.2" fill="#fff" stroke="#000000" stroke-width="1.2"/>
<rect x="85.61" y="220.7" width="6.2" height="6.2" fill="#fff" stroke="#000000" stroke-width="1.2"/>
<rect x="86" y="219.16" width="6.2" height="6.2" fill="#fff" stroke="#000000" stroke-width="1.2"/>
<rect x="86.63" y="217.69" width="6.2" height="6.2" fill="#fff" stroke="#000000" stroke-width="1.2"/>
<rect x="87.27" y="216.21" width="6.2" height="6.2" fill="#fff" stroke="#000000" stroke-width="1.2"/>
<rect x="88.15" y="214.89" width="6.2" height="6.2" fill="#fff" stroke="#000000" stroke-width="1.2"/>
<rect x="89.1" y="213.6" width="6.2" height="6.2" fill="#fff" stroke="#000000" stroke-width="1.2"/>
<rect x="89.4" y="213.2" width="6.2" height="6.2" fill="#fff" stroke="#000000" stroke-width="1.2"/>
<rect x="93.93" y="210.49" width="6.2" height="6.2" fill="#fff" stroke="#000000" stroke-width="1.2"/>
<rect x="98.29" y="207.56" width="6.2" height="6.2" fill="#fff" stroke="#000000" stroke-width="1.2"/>
<rect x="103.23" y="205.64" width="6.2" height="6.2" fill="#fff" stroke="#000000" stroke-width="1.2"/>
<rect x="108.08" y="203.51" width="6.2" height="6.2" fill="#fff" stroke="#000000" stroke-width="1.2"/>
<rect x="113.07" y="201.71" width="6.2" height="6.2" fill="#fff" stroke="#000000" stroke-width="1.2"/>
<rect x="117.95" y="199.65" width="6.2" height="6.2" fill="#fff" stroke="#000000" stroke-width="1.2"/>
<rect x="122.83" y="197.58" width="6.2" height="6.2" fill="#fff" stroke="#000000" stroke-width="1.2"/>
<rect x="127.71" y="195.53" width="6.2" height="6.2" fill="#fff" stroke="#000000" stroke-width="1.2"/>
<rect x="132.58" y="193.42" width="6.2" height="6.2" fill="#fff" stroke="#000000" stroke-width="1.2"/>
<rect x="137.42" y="191.28" width="6.2" height="6.2" fill="#fff" stroke="#000000" stroke-width="1.2"/>
<rect x="142.37" y="189.4" width="6.2" height="6.2" fill="#fff" stroke="#000000" stroke-width="1.2"/>
<rect x="147.4" y="187.71" width="6.2" height="6.2" fill="#fff" stroke="#000000" stroke-width="1.2"/>
<rect x="152.46" y="186.13" width="6.2" height="6.2" fill="#fff" stroke="#000000" stroke-width="1.2"/>
<rect x="157.55" y="184.67" width="6.2" height="6.2" fill="#fff" stroke="#000000" stroke-width="1.2"/>
<rect x="162.62" y="183.12" width="6.2" height="6.2" fill="#fff" stroke="#000000" stroke-width="1.2"/>
<rect x="167.66" y="181.48" width="6.2" height="6.2" fill="#fff" stroke="#000000" stroke-width="1.2"/>
<rect x="172.69" y="179.83" width="6.2" height="6.2" fill="#fff" stroke="#000000" stroke-width="1.2"/>
<rect x="177.72" y="178.14" width="6.2" height="6.2" fill="#fff" stroke="#000000" stroke-width="1.2"/>
<rect x="182.65" y="176.23" width="6.2" height="6.2" fill="#fff" stroke="#000000" stroke-width="1.2"/>
<rect x="187.4" y="173.89" width="6.2" height="6.2" fill="#fff" stroke="#000000" stroke-width="1.2"/>
<rect x="192.03" y="171.31" width="6.2" height="6.2" fill="#fff" stroke="#000000" stroke-width="1.2"/>
<rect x="196.57" y="168.58" width="6.2" height="6.2" fill="#fff" stroke="#000000" stroke-width="1.2"/>
<rect x="194.9" y="173.4" width="6.2" height="6.2" fill="#fff" stroke="#000000" stroke-width="1.2"/>
<rect x="196.51" y="172.6" width="6.2" height="6.2" fill="#fff" stroke="#000000" stroke-width="1.2"/>
<rect x="198.12" y="171.79" width="6.2" height="6.2" fill="#fff" stroke="#000000" stroke-width="1.2"/>
<rect x="199.73" y="170.99" width="6.2" height="6.2" fill="#fff" stroke="#000000" stroke-width="1.2"/>
<rect x="201.34" y="170.18" width="6.2" height="6.2" fill="#fff" stroke="#000000" stroke-width="1.2"/>
<rect x="202.82" y="169.17" width="6.2" height="6.2" fill="#fff" stroke="#000000" stroke-width="1.2"/>
<rect x="204.24" y="168.06" width="6.2" height="6.2" fill="#fff" stroke="#000000" stroke-width="1.2"/>
<rect x="205.65" y="166.95" width="6.2" height="6.2" fill="#fff" stroke="#000000" stroke-width="1.2"/>
<rect x="207.07" y="165.84" width="6.2" height="6.2" fill="#fff" stroke="#000000" stroke-width="1.2"/>
<rect x="208.48" y="164.73" width="6.2" height="6.2" fill="#fff" stroke="#000000" stroke-width="1.2"/>
<rect x="209.82" y="163.53" width="6.2" height="6.2" fill="#fff" stroke="#000000" stroke-width="1.2"/>
<rect x="211.13" y="162.29" width="6.2" height="6.2" fill="#fff" stroke="#000000" stroke-width="1.2"/>
<rect x="212.44" y="161.06" width="6.2" height="6.2" fill="#fff" stroke="#000000" stroke-width="1.2"/>
<rect x="213.75" y="159.82" width="6.2" height="6.2" fill="#fff" stroke="#000000" stroke-width="1.2"/>
<rect x="215.06" y="158.58" width="6.2" height="6.2" fill="#fff" stroke="#000000" stroke-width="1.2"/>
<rect x="216.37" y="157.35" width="6.2" height="6.2" fill="#fff" stroke="#000000" stroke-width="1.2"/>
<rect x="217.68" y="156.11" width="6.2" height="6.2" fill="#fff" stroke="#000000" stroke-width="1.2"/>
<rect x="218.74" y="154.67" width="6.2" height="6.2" fill="#fff" stroke="#000000" stroke-width="1.2"/>
<rect x="219.75" y="153.18" width="6.2" height="6.2" fill="#fff" stroke="#000000" stroke-width="1.2"/>
<rect x="220.77" y="151.69" width="6.2" height="6.2" fill="#fff" stroke="#000000" stroke-width="1.2"/>
<rect x="221.78" y="150.21" width="6.2" height="6.2" fill="#fff" stroke="#000000" stroke-width="1.2"/>
<rect x="222.8" y="148.72" width="6.2" height="6.2" fill="#fff" stroke="#000000" stroke-width="1.2"/>
<rect x="223.81" y="147.23" width="6.2" height="6.2" fill="#fff" stroke="#000000" stroke-width="1.2"/>
<rect x="224.82" y="145.74" width="6.2" height="6.2" fill="#fff" stroke="#000000" stroke-width="1.2"/>
<rect x="225.8" y="144.23" width="6.2" height="6.2" fill="#fff" stroke="#000000" stroke-width="1.2"/>
<rect x="226.71" y="142.68" width="6.2" height="6.2" fill="#fff" stroke="#000000" stroke-width="1.2"/>
<rect x="227.63" y="141.13" width="6.2" height="6.2" fill="#fff" stroke="#000000" stroke-width="1.2"/>
<rect x="228.54" y="139.58" width="6.2" height="6.2" fill="#fff" stroke="#000000" stroke-width="1.2"/>
<rect x="229.46" y="138.03" width="6.2" height="6.2" fill="#fff" stroke="#000000" stroke-width="1.2"/>
<rect x="230.37" y="136.48" width="6.2" height="6.2" fill="#fff" stroke="#000000" stroke-width="1.2"/>
<rect x="231.29" y="134.93" width="6.2" height="6.2" fill="#fff" stroke="#000000" stroke-width="1.2"/>
<rect x="232.15" y="133.35" width="6.2" height="6.2" fill="#fff" stroke="#000000" stroke-width="1.2"/>
<rect x="232.9" y="131.71" width="6.2" height="6.2" fill="#fff" stroke="#000000" stroke-width="1.2"/>
<rect x="233.64" y="130.08" width="6.2" height="6.2" fill="#fff" stroke="#000000" stroke-width="1.2"/>
<rect x="234.39" y="128.44" width="6.2" height="6.2" fill="#fff" stroke="#000000" stroke-width="1.2"/>
<rect x="235.14" y="126.8" width="6.2" height="6.2" fill="#fff" stroke="#000000" stroke-width="1.2"/>
<rect x="235.88" y="125.16" width="6.2" height="6.2" fill="#fff" stroke="#000000" stroke-width="1.2"/>
<rect x="236.63" y="123.53" width="6.2" height="6.2" fill="#fff" stroke="#000000" stroke-width="1.2"/>
<polyline points="208.5,173.5 215.5,168 224.5,159.5 232,148.5 238.5,137.5 243.7,126.1" fill="none" stroke="#000000" stroke-width="1.0" stroke-linejoin="round" />
<rect x="205.4" y="170.4" width="6.2" height="6.2" fill="#fff" stroke="#000000" stroke-width="1.2"/>
<rect x="206.82" y="169.29" width="6.2" height="6.2" fill="#fff" stroke="#000000" stroke-width="1.2"/>
<rect x="208.23" y="168.18" width="6.2" height="6.2" fill="#fff" stroke="#000000" stroke-width="1.2"/>
<rect x="209.65" y="167.06" width="6.2" height="6.2" fill="#fff" stroke="#000000" stroke-width="1.2"/>
<rect x="211.06" y="165.95" width="6.2" height="6.2" fill="#fff" stroke="#000000" stroke-width="1.2"/>
<rect x="212.47" y="164.83" width="6.2" height="6.2" fill="#fff" stroke="#000000" stroke-width="1.2"/>
<rect x="213.78" y="163.6" width="6.2" height="6.2" fill="#fff" stroke="#000000" stroke-width="1.2"/>
<rect x="215.09" y="162.36" width="6.2" height="6.2" fill="#fff" stroke="#000000" stroke-width="1.2"/>
<rect x="216.4" y="161.13" width="6.2" height="6.2" fill="#fff" stroke="#000000" stroke-width="1.2"/>
<rect x="217.71" y="159.89" width="6.2" height="6.2" fill="#fff" stroke="#000000" stroke-width="1.2"/>
<rect x="219.01" y="158.65" width="6.2" height="6.2" fill="#fff" stroke="#000000" stroke-width="1.2"/>
<rect x="220.32" y="157.42" width="6.2" height="6.2" fill="#fff" stroke="#000000" stroke-width="1.2"/>
<rect x="221.58" y="156.14" width="6.2" height="6.2" fill="#fff" stroke="#000000" stroke-width="1.2"/>
<rect x="222.59" y="154.65" width="6.2" height="6.2" fill="#fff" stroke="#000000" stroke-width="1.2"/>
<rect x="223.61" y="153.16" width="6.2" height="6.2" fill="#fff" stroke="#000000" stroke-width="1.2"/>
<rect x="224.62" y="151.68" width="6.2" height="6.2" fill="#fff" stroke="#000000" stroke-width="1.2"/>
<rect x="225.64" y="150.19" width="6.2" height="6.2" fill="#fff" stroke="#000000" stroke-width="1.2"/>
<rect x="226.65" y="148.7" width="6.2" height="6.2" fill="#fff" stroke="#000000" stroke-width="1.2"/>
<rect x="227.66" y="147.21" width="6.2" height="6.2" fill="#fff" stroke="#000000" stroke-width="1.2"/>
<rect x="228.68" y="145.73" width="6.2" height="6.2" fill="#fff" stroke="#000000" stroke-width="1.2"/>
<rect x="229.61" y="144.19" width="6.2" height="6.2" fill="#fff" stroke="#000000" stroke-width="1.2"/>
<rect x="230.53" y="142.64" width="6.2" height="6.2" fill="#fff" stroke="#000000" stroke-width="1.2"/>
<rect x="231.45" y="141.09" width="6.2" height="6.2" fill="#fff" stroke="#000000" stroke-width="1.2"/>
<rect x="232.36" y="139.54" width="6.2" height="6.2" fill="#fff" stroke="#000000" stroke-width="1.2"/>
<rect x="233.28" y="137.99" width="6.2" height="6.2" fill="#fff" stroke="#000000" stroke-width="1.2"/>
<rect x="234.19" y="136.44" width="6.2" height="6.2" fill="#fff" stroke="#000000" stroke-width="1.2"/>
<rect x="235.11" y="134.89" width="6.2" height="6.2" fill="#fff" stroke="#000000" stroke-width="1.2"/>
<rect x="235.91" y="133.28" width="6.2" height="6.2" fill="#fff" stroke="#000000" stroke-width="1.2"/>
<rect x="236.66" y="131.65" width="6.2" height="6.2" fill="#fff" stroke="#000000" stroke-width="1.2"/>
<rect x="237.4" y="130.01" width="6.2" height="6.2" fill="#fff" stroke="#000000" stroke-width="1.2"/>
<rect x="238.15" y="128.37" width="6.2" height="6.2" fill="#fff" stroke="#000000" stroke-width="1.2"/>
<rect x="238.9" y="126.73" width="6.2" height="6.2" fill="#fff" stroke="#000000" stroke-width="1.2"/>
<rect x="239.64" y="125.09" width="6.2" height="6.2" fill="#fff" stroke="#000000" stroke-width="1.2"/>
<rect x="240.39" y="123.46" width="6.2" height="6.2" fill="#fff" stroke="#000000" stroke-width="1.2"/>
<rect x="237.1" y="122.5" width="6.2" height="6.2" fill="#fff" stroke="#000000" stroke-width="1.2"/>
<rect x="238.9" y="117.9" width="6.2" height="6.2" fill="#fff" stroke="#000000" stroke-width="1.2"/>
<rect x="240.8" y="113.2" width="6.2" height="6.2" fill="#fff" stroke="#000000" stroke-width="1.2"/>
<rect x="242.6" y="107.6" width="6.2" height="6.2" fill="#fff" stroke="#000000" stroke-width="1.2"/>
<rect x="244.5" y="102.1" width="6.2" height="6.2" fill="#fff" stroke="#000000" stroke-width="1.2"/>
<rect x="246.3" y="96.5" width="6.2" height="6.2" fill="#fff" stroke="#000000" stroke-width="1.2"/>
<rect x="248.2" y="89.1" width="6.2" height="6.2" fill="#fff" stroke="#000000" stroke-width="1.2"/>
<rect x="252.8" y="78.9" width="6.2" height="6.2" fill="#fff" stroke="#000000" stroke-width="1.2"/>
<rect x="140.8" y="195.3" width="6.2" height="6.2" fill="#fff" stroke="#000000" stroke-width="1.2"/>
<rect x="151.2" y="192.5" width="6.2" height="6.2" fill="#fff" stroke="#000000" stroke-width="1.2"/>
<rect x="162.3" y="189.1" width="6.2" height="6.2" fill="#fff" stroke="#000000" stroke-width="1.2"/>
<rect x="172" y="185.6" width="6.2" height="6.2" fill="#fff" stroke="#000000" stroke-width="1.2"/>
<rect x="182.5" y="182.1" width="6.2" height="6.2" fill="#fff" stroke="#000000" stroke-width="1.2"/>
<rect x="188" y="179.9" width="6.2" height="6.2" fill="#fff" stroke="#000000" stroke-width="1.2"/>
<rect x="194.9" y="175.9" width="6.2" height="6.2" fill="#fff" stroke="#000000" stroke-width="1.2"/>
<rect x="203.3" y="169.4" width="6.2" height="6.2" fill="#fff" stroke="#000000" stroke-width="1.2"/>
<rect x="207.5" y="163.2" width="6.2" height="6.2" fill="#fff" stroke="#000000" stroke-width="1.2"/>
<rect x="210.7" y="155.2" width="6.2" height="6.2" fill="#fff" stroke="#000000" stroke-width="1.2"/>
<rect x="215.4" y="144.4" width="6.2" height="6.2" fill="#fff" stroke="#000000" stroke-width="1.2"/>
<rect x="219.9" y="128.3" width="6.2" height="6.2" fill="#fff" stroke="#000000" stroke-width="1.2"/>
<rect x="223.2" y="110" width="6.2" height="6.2" fill="#fff" stroke="#000000" stroke-width="1.2"/>
<rect x="225.2" y="98.9" width="6.2" height="6.2" fill="#fff" stroke="#000000" stroke-width="1.2"/>
<rect x="232.4" y="75.3" width="6.2" height="6.2" fill="#fff" stroke="#000000" stroke-width="1.2"/>
<rect x="235.4" y="70.4" width="6.2" height="6.2" fill="#fff" stroke="#000000" stroke-width="1.2"/>
<rect x="235.4" y="70.1" width="6.2" height="6.2" fill="#fff" stroke="#000000" stroke-width="1.2"/>
<rect x="240.5" y="69.96" width="6.2" height="6.2" fill="#fff" stroke="#000000" stroke-width="1.2"/>
<rect x="245.6" y="69.83" width="6.2" height="6.2" fill="#fff" stroke="#000000" stroke-width="1.2"/>
<rect x="250.69" y="69.69" width="6.2" height="6.2" fill="#fff" stroke="#000000" stroke-width="1.2"/>
<rect x="255.79" y="69.55" width="6.2" height="6.2" fill="#fff" stroke="#000000" stroke-width="1.2"/>
<rect x="260.89" y="69.41" width="6.2" height="6.2" fill="#fff" stroke="#000000" stroke-width="1.2"/>
<rect x="265.99" y="69.28" width="6.2" height="6.2" fill="#fff" stroke="#000000" stroke-width="1.2"/>
<rect x="271.09" y="69.14" width="6.2" height="6.2" fill="#fff" stroke="#000000" stroke-width="1.2"/>
<rect x="276.19" y="69" width="6.2" height="6.2" fill="#fff" stroke="#000000" stroke-width="1.2"/>
<rect x="281.28" y="68.86" width="6.2" height="6.2" fill="#fff" stroke="#000000" stroke-width="1.2"/>
<rect x="286.38" y="68.73" width="6.2" height="6.2" fill="#fff" stroke="#000000" stroke-width="1.2"/>
<rect x="86.5" y="47.6" width="206.8" height="210.2" fill="none" stroke="#000" stroke-width="1.6"/>
<line x1="98.9" y1="63.3" x2="132.6" y2="63.3" stroke="#000000" stroke-width="1.0"/>
<rect x="112.3" y="60" width="6.6" height="6.6" fill="#fff" stroke="#000000" stroke-width="1.2"/>
<line x1="98.9" y1="81.5" x2="132.6" y2="81.5" stroke="#dc1e2a" stroke-width="1.0"/>
<circle cx="115.6" cy="81.5" r="3.4" fill="#fff" stroke="#dc1e2a" stroke-width="1.2"/>
<line x1="98.9" y1="100.2" x2="132.6" y2="100.2" stroke="#2ee02e" stroke-width="1.0"/>
<path d="M111.2,102.41 L115.6,94.79 L120,102.41 Z" fill="#fff" stroke="#2ee02e" stroke-width="1.2"/>
<text transform="translate(135.6,68.4) scale(1,1.05)" font-size="14.75" text-anchor="start" font-weight="normal" >MC</text>
<text transform="translate(135.6,86.6) scale(1,1.05)" font-size="14.75" text-anchor="start" font-weight="normal" >MC-A</text>
<text transform="translate(135.6,105.4) scale(1,1.05)" font-size="14.75" text-anchor="start" font-weight="normal" >MC-G</text>
<text transform="translate(80.5,262.6) scale(1,1.05)" font-size="18.6" text-anchor="end" font-weight="normal" >0</text>
<text transform="translate(80.5,210.05) scale(1,1.05)" font-size="18.6" text-anchor="end" font-weight="normal" >150</text>
<text transform="translate(80.5,157.5) scale(1,1.05)" font-size="18.6" text-anchor="end" font-weight="normal" >300</text>
<text transform="translate(80.5,104.95) scale(1,1.05)" font-size="18.6" text-anchor="end" font-weight="normal" >450</text>
<text transform="translate(80.5,52.4) scale(1,1.05)" font-size="18.6" text-anchor="end" font-weight="normal" >600</text>
<text transform="translate(86.5,278.5) scale(1,1.05)" font-size="18.2" text-anchor="middle" font-weight="normal" >0.0</text>
<text transform="translate(127.86,278.5) scale(1,1.05)" font-size="18.2" text-anchor="middle" font-weight="normal" >0.2</text>
<text transform="translate(169.22,278.5) scale(1,1.05)" font-size="18.2" text-anchor="middle" font-weight="normal" >0.4</text>
<text transform="translate(210.58,278.5) scale(1,1.05)" font-size="18.2" text-anchor="middle" font-weight="normal" >0.6</text>
<text transform="translate(251.94,278.5) scale(1,1.05)" font-size="18.2" text-anchor="middle" font-weight="normal" >0.8</text>
<text transform="translate(293.3,278.5) scale(1,1.05)" font-size="18.2" text-anchor="middle" font-weight="normal" >1.0</text>
<text transform="translate(190.2,309.7)" font-size="19" text-anchor="middle" font-weight="normal" >Relative Pressure (p/p<tspan font-size="11.5" dy="7">0</tspan><tspan dy="-7">)</tspan></text>
<text transform="translate(35,166) rotate(-90)" font-size="19.7" text-anchor="middle" font-weight="normal" >Amount Adsorbed (cm<tspan font-size="11.5" dy="-7.5">3</tspan><tspan dy="7.5"> STP g</tspan><tspan font-size="11.5" dy="-7.5">-1</tspan><tspan dy="7.5">)</tspan></text>
<text transform="translate(40.5,25)" font-size="29" text-anchor="middle" font-weight="bold" >a</text>
<line x1="387.5" y1="258.3" x2="387.5" y2="253.3" stroke="#000000" stroke-width="1.2"/>
<line x1="433.98" y1="258.3" x2="433.98" y2="255.3" stroke="#000000" stroke-width="1.2"/>
<line x1="461.17" y1="258.3" x2="461.17" y2="255.3" stroke="#000000" stroke-width="1.2"/>
<line x1="480.46" y1="258.3" x2="480.46" y2="255.3" stroke="#000000" stroke-width="1.2"/>
<line x1="495.42" y1="258.3" x2="495.42" y2="255.3" stroke="#000000" stroke-width="1.2"/>
<line x1="507.65" y1="258.3" x2="507.65" y2="255.3" stroke="#000000" stroke-width="1.2"/>
<line x1="517.98" y1="258.3" x2="517.98" y2="255.3" stroke="#000000" stroke-width="1.2"/>
<line x1="526.94" y1="258.3" x2="526.94" y2="255.3" stroke="#000000" stroke-width="1.2"/>
<line x1="534.84" y1="258.3" x2="534.84" y2="255.3" stroke="#000000" stroke-width="1.2"/>
<line x1="541.9" y1="258.3" x2="541.9" y2="253.3" stroke="#000000" stroke-width="1.2"/>
<line x1="588.38" y1="258.3" x2="588.38" y2="255.3" stroke="#000000" stroke-width="1.2"/>
<line x1="387.5" y1="246.5" x2="392.5" y2="246.5" stroke="#000000" stroke-width="1.2"/>
<line x1="387.5" y1="221.5" x2="390.5" y2="221.5" stroke="#000000" stroke-width="1.2"/>
<line x1="387.5" y1="196.5" x2="392.5" y2="196.5" stroke="#000000" stroke-width="1.2"/>
<line x1="387.5" y1="171.5" x2="390.5" y2="171.5" stroke="#000000" stroke-width="1.2"/>
<line x1="387.5" y1="146.5" x2="392.5" y2="146.5" stroke="#000000" stroke-width="1.2"/>
<line x1="387.5" y1="121.5" x2="390.5" y2="121.5" stroke="#000000" stroke-width="1.2"/>
<line x1="387.5" y1="96.5" x2="392.5" y2="96.5" stroke="#000000" stroke-width="1.2"/>
<line x1="387.5" y1="71.5" x2="390.5" y2="71.5" stroke="#000000" stroke-width="1.2"/>
<line x1="387.5" y1="46.5" x2="392.5" y2="46.5" stroke="#000000" stroke-width="1.2"/>
<polyline points="396,247.3 401,247.3 406,247.3 411,247.3 416,247.3 420.5,247.5 423.5,247.5 426.5,247.5 429.5,247.5 432.5,247.5 436.5,243.7 440.8,244.8 445.1,236.2 450.5,234 456,229.7 461.3,226.4 467.8,228.6 473.2,226.4 479.7,228.6 487.2,226.4 491,224 494,221 497,218 501,214 505.3,209.2 509,201 511,197 513.6,192.5 517,183 520.9,184.8 520.6,171.7 523.1,169.7 523,160 526.3,157.8 526,143.9 528,148 530.6,141.6 532,147 534,152 538.2,157.8 539.3,171.8 540.4,178.3 542.5,196.2 543.6,218.2 549.4,236.7 556.3,246 562.1,246.5 570.5,246.5 579,246.5 590,246.5" fill="none" stroke="#2ee02e" stroke-width="1.0" stroke-linejoin="round" />
<path d="M392.2,250.59 L396,244.01 L399.8,250.59 Z" fill="#fff" stroke="#2ee02e" stroke-width="1.2"/>
<path d="M397.2,250.59 L401,244.01 L404.8,250.59 Z" fill="#fff" stroke="#2ee02e" stroke-width="1.2"/>
<path d="M402.2,250.59 L406,244.01 L409.8,250.59 Z" fill="#fff" stroke="#2ee02e" stroke-width="1.2"/>
<path d="M407.2,250.59 L411,244.01 L414.8,250.59 Z" fill="#fff" stroke="#2ee02e" stroke-width="1.2"/>
<path d="M412.2,250.59 L416,244.01 L419.8,250.59 Z" fill="#fff" stroke="#2ee02e" stroke-width="1.2"/>
<path d="M416.7,250.79 L420.5,244.21 L424.3,250.79 Z" fill="#fff" stroke="#2ee02e" stroke-width="1.2"/>
<path d="M419.7,250.79 L423.5,244.21 L427.3,250.79 Z" fill="#fff" stroke="#2ee02e" stroke-width="1.2"/>
<path d="M422.7,250.79 L426.5,244.21 L430.3,250.79 Z" fill="#fff" stroke="#2ee02e" stroke-width="1.2"/>
<path d="M425.7,250.79 L429.5,244.21 L433.3,250.79 Z" fill="#fff" stroke="#2ee02e" stroke-width="1.2"/>
<path d="M428.7,250.79 L432.5,244.21 L436.3,250.79 Z" fill="#fff" stroke="#2ee02e" stroke-width="1.2"/>
<path d="M432.7,246.99 L436.5,240.41 L440.3,246.99 Z" fill="#fff" stroke="#2ee02e" stroke-width="1.2"/>
<path d="M437,248.09 L440.8,241.51 L444.6,248.09 Z" fill="#fff" stroke="#2ee02e" stroke-width="1.2"/>
<path d="M441.3,239.49 L445.1,232.91 L448.9,239.49 Z" fill="#fff" stroke="#2ee02e" stroke-width="1.2"/>
<path d="M446.7,237.29 L450.5,230.71 L454.3,237.29 Z" fill="#fff" stroke="#2ee02e" stroke-width="1.2"/>
<path d="M452.2,232.99 L456,226.41 L459.8,232.99 Z" fill="#fff" stroke="#2ee02e" stroke-width="1.2"/>
<path d="M457.5,229.69 L461.3,223.11 L465.1,229.69 Z" fill="#fff" stroke="#2ee02e" stroke-width="1.2"/>
<path d="M464,231.89 L467.8,225.31 L471.6,231.89 Z" fill="#fff" stroke="#2ee02e" stroke-width="1.2"/>
<path d="M469.4,229.69 L473.2,223.11 L477,229.69 Z" fill="#fff" stroke="#2ee02e" stroke-width="1.2"/>
<path d="M475.9,231.89 L479.7,225.31 L483.5,231.89 Z" fill="#fff" stroke="#2ee02e" stroke-width="1.2"/>
<path d="M483.4,229.69 L487.2,223.11 L491,229.69 Z" fill="#fff" stroke="#2ee02e" stroke-width="1.2"/>
<path d="M487.2,227.29 L491,220.71 L494.8,227.29 Z" fill="#fff" stroke="#2ee02e" stroke-width="1.2"/>
<path d="M490.2,224.29 L494,217.71 L497.8,224.29 Z" fill="#fff" stroke="#2ee02e" stroke-width="1.2"/>
<path d="M493.2,221.29 L497,214.71 L500.8,221.29 Z" fill="#fff" stroke="#2ee02e" stroke-width="1.2"/>
<path d="M497.2,217.29 L501,210.71 L504.8,217.29 Z" fill="#fff" stroke="#2ee02e" stroke-width="1.2"/>
<path d="M501.5,212.49 L505.3,205.91 L509.1,212.49 Z" fill="#fff" stroke="#2ee02e" stroke-width="1.2"/>
<path d="M505.2,204.29 L509,197.71 L512.8,204.29 Z" fill="#fff" stroke="#2ee02e" stroke-width="1.2"/>
<path d="M507.2,200.29 L511,193.71 L514.8,200.29 Z" fill="#fff" stroke="#2ee02e" stroke-width="1.2"/>
<path d="M509.8,195.79 L513.6,189.21 L517.4,195.79 Z" fill="#fff" stroke="#2ee02e" stroke-width="1.2"/>
<path d="M513.2,186.29 L517,179.71 L520.8,186.29 Z" fill="#fff" stroke="#2ee02e" stroke-width="1.2"/>
<path d="M517.1,188.09 L520.9,181.51 L524.7,188.09 Z" fill="#fff" stroke="#2ee02e" stroke-width="1.2"/>
<path d="M516.8,174.99 L520.6,168.41 L524.4,174.99 Z" fill="#fff" stroke="#2ee02e" stroke-width="1.2"/>
<path d="M519.3,172.99 L523.1,166.41 L526.9,172.99 Z" fill="#fff" stroke="#2ee02e" stroke-width="1.2"/>
<path d="M519.2,163.29 L523,156.71 L526.8,163.29 Z" fill="#fff" stroke="#2ee02e" stroke-width="1.2"/>
<path d="M522.5,161.09 L526.3,154.51 L530.1,161.09 Z" fill="#fff" stroke="#2ee02e" stroke-width="1.2"/>
<path d="M522.2,147.19 L526,140.61 L529.8,147.19 Z" fill="#fff" stroke="#2ee02e" stroke-width="1.2"/>
<path d="M524.2,151.29 L528,144.71 L531.8,151.29 Z" fill="#fff" stroke="#2ee02e" stroke-width="1.2"/>
<path d="M526.8,144.89 L530.6,138.31 L534.4,144.89 Z" fill="#fff" stroke="#2ee02e" stroke-width="1.2"/>
<path d="M528.2,150.29 L532,143.71 L535.8,150.29 Z" fill="#fff" stroke="#2ee02e" stroke-width="1.2"/>
<path d="M530.2,155.29 L534,148.71 L537.8,155.29 Z" fill="#fff" stroke="#2ee02e" stroke-width="1.2"/>
<path d="M534.4,161.09 L538.2,154.51 L542,161.09 Z" fill="#fff" stroke="#2ee02e" stroke-width="1.2"/>
<path d="M535.5,175.09 L539.3,168.51 L543.1,175.09 Z" fill="#fff" stroke="#2ee02e" stroke-width="1.2"/>
<path d="M536.6,181.59 L540.4,175.01 L544.2,181.59 Z" fill="#fff" stroke="#2ee02e" stroke-width="1.2"/>
<path d="M538.7,199.49 L542.5,192.91 L546.3,199.49 Z" fill="#fff" stroke="#2ee02e" stroke-width="1.2"/>
<path d="M539.8,221.49 L543.6,214.91 L547.4,221.49 Z" fill="#fff" stroke="#2ee02e" stroke-width="1.2"/>
<path d="M545.6,239.99 L549.4,233.41 L553.2,239.99 Z" fill="#fff" stroke="#2ee02e" stroke-width="1.2"/>
<path d="M552.5,249.29 L556.3,242.71 L560.1,249.29 Z" fill="#fff" stroke="#2ee02e" stroke-width="1.2"/>
<path d="M558.3,249.79 L562.1,243.21 L565.9,249.79 Z" fill="#fff" stroke="#2ee02e" stroke-width="1.2"/>
<path d="M566.7,249.79 L570.5,243.21 L574.3,249.79 Z" fill="#fff" stroke="#2ee02e" stroke-width="1.2"/>
<path d="M575.2,249.79 L579,243.21 L582.8,249.79 Z" fill="#fff" stroke="#2ee02e" stroke-width="1.2"/>
<path d="M586.2,249.79 L590,243.21 L593.8,249.79 Z" fill="#fff" stroke="#2ee02e" stroke-width="1.2"/>
<path d="M420.2,250.59 L424,244.01 L427.8,250.59 Z" fill="#fff" stroke="#2ee02e" stroke-width="1.2"/>
<path d="M422.8,250.59 L426.6,244.01 L430.4,250.59 Z" fill="#fff" stroke="#2ee02e" stroke-width="1.2"/>
<path d="M425.4,250.59 L429.2,244.01 L433,250.59 Z" fill="#fff" stroke="#2ee02e" stroke-width="1.2"/>
<path d="M428,250.59 L431.8,244.01 L435.6,250.59 Z" fill="#fff" stroke="#2ee02e" stroke-width="1.2"/>
<path d="M430.6,250.59 L434.4,244.01 L438.2,250.59 Z" fill="#fff" stroke="#2ee02e" stroke-width="1.2"/>
<path d="M433.2,250.59 L437,244.01 L440.8,250.59 Z" fill="#fff" stroke="#2ee02e" stroke-width="1.2"/>
<path d="M524.7,147.79 L528.5,141.21 L532.3,147.79 Z" fill="#fff" stroke="#2ee02e" stroke-width="1.2"/>
<path d="M528.7,148.29 L532.5,141.71 L536.3,148.29 Z" fill="#fff" stroke="#2ee02e" stroke-width="1.2"/>
<path d="M531.2,154.29 L535,147.71 L538.8,154.29 Z" fill="#fff" stroke="#2ee02e" stroke-width="1.2"/>
<path d="M525.2,154.29 L529,147.71 L532.8,154.29 Z" fill="#fff" stroke="#2ee02e" stroke-width="1.2"/>
<path d="M520.7,166.29 L524.5,159.71 L528.3,166.29 Z" fill="#fff" stroke="#2ee02e" stroke-width="1.2"/>
<path d="M533.2,167.79 L537,161.21 L540.8,167.79 Z" fill="#fff" stroke="#2ee02e" stroke-width="1.2"/>
<path d="M527.2,159.29 L531,152.71 L534.8,159.29 Z" fill="#fff" stroke="#2ee02e" stroke-width="1.2"/>
<polyline points="396.8,239 404,209.2 409,188.2 413,195.2 415.7,185.1 417,155.6 421.7,175.1 426.1,182.1 422.1,194.2 427.1,194.2 431.1,189.2 433.2,188.6 439.7,208 445,207 449.4,210.2 452.7,226.4 456,231.8 461.3,235 467.8,236.2 473.2,237.2 479.7,235 485,231.8 490.5,226.4 494.8,216.7 498,203.8 503,194 507,189 511,178 514,168 516,157 518.9,137.8 523,125.3 524.4,112.8 527.2,98.9 528.6,90.6 532.8,82 536,84 538.3,101.7 541.1,125.3 543.9,148.9 546,175 549.4,203.1 552,222 555,238.5 562,246.3" fill="none" stroke="#dc1e2a" stroke-width="1.0" stroke-linejoin="round" />
<circle cx="396.8" cy="239" r="3.6" fill="#fff" stroke="#dc1e2a" stroke-width="1.2"/>
<circle cx="404" cy="209.2" r="3.6" fill="#fff" stroke="#dc1e2a" stroke-width="1.2"/>
<circle cx="409" cy="188.2" r="3.6" fill="#fff" stroke="#dc1e2a" stroke-width="1.2"/>
<circle cx="413" cy="195.2" r="3.6" fill="#fff" stroke="#dc1e2a" stroke-width="1.2"/>
<circle cx="415.7" cy="185.1" r="3.6" fill="#fff" stroke="#dc1e2a" stroke-width="1.2"/>
<circle cx="417" cy="155.6" r="3.6" fill="#fff" stroke="#dc1e2a" stroke-width="1.2"/>
<circle cx="421.7" cy="175.1" r="3.6" fill="#fff" stroke="#dc1e2a" stroke-width="1.2"/>
<circle cx="426.1" cy="182.1" r="3.6" fill="#fff" stroke="#dc1e2a" stroke-width="1.2"/>
<circle cx="422.1" cy="194.2" r="3.6" fill="#fff" stroke="#dc1e2a" stroke-width="1.2"/>
<circle cx="427.1" cy="194.2" r="3.6" fill="#fff" stroke="#dc1e2a" stroke-width="1.2"/>
<circle cx="431.1" cy="189.2" r="3.6" fill="#fff" stroke="#dc1e2a" stroke-width="1.2"/>
<circle cx="433.2" cy="188.6" r="3.6" fill="#fff" stroke="#dc1e2a" stroke-width="1.2"/>
<circle cx="439.7" cy="208" r="3.6" fill="#fff" stroke="#dc1e2a" stroke-width="1.2"/>
<circle cx="445" cy="207" r="3.6" fill="#fff" stroke="#dc1e2a" stroke-width="1.2"/>
<circle cx="449.4" cy="210.2" r="3.6" fill="#fff" stroke="#dc1e2a" stroke-width="1.2"/>
<circle cx="452.7" cy="226.4" r="3.6" fill="#fff" stroke="#dc1e2a" stroke-width="1.2"/>
<circle cx="456" cy="231.8" r="3.6" fill="#fff" stroke="#dc1e2a" stroke-width="1.2"/>
<circle cx="461.3" cy="235" r="3.6" fill="#fff" stroke="#dc1e2a" stroke-width="1.2"/>
<circle cx="467.8" cy="236.2" r="3.6" fill="#fff" stroke="#dc1e2a" stroke-width="1.2"/>
<circle cx="473.2" cy="237.2" r="3.6" fill="#fff" stroke="#dc1e2a" stroke-width="1.2"/>
<circle cx="479.7" cy="235" r="3.6" fill="#fff" stroke="#dc1e2a" stroke-width="1.2"/>
<circle cx="485" cy="231.8" r="3.6" fill="#fff" stroke="#dc1e2a" stroke-width="1.2"/>
<circle cx="490.5" cy="226.4" r="3.6" fill="#fff" stroke="#dc1e2a" stroke-width="1.2"/>
<circle cx="494.8" cy="216.7" r="3.6" fill="#fff" stroke="#dc1e2a" stroke-width="1.2"/>
<circle cx="498" cy="203.8" r="3.6" fill="#fff" stroke="#dc1e2a" stroke-width="1.2"/>
<circle cx="503" cy="194" r="3.6" fill="#fff" stroke="#dc1e2a" stroke-width="1.2"/>
<circle cx="507" cy="189" r="3.6" fill="#fff" stroke="#dc1e2a" stroke-width="1.2"/>
<circle cx="511" cy="178" r="3.6" fill="#fff" stroke="#dc1e2a" stroke-width="1.2"/>
<circle cx="514" cy="168" r="3.6" fill="#fff" stroke="#dc1e2a" stroke-width="1.2"/>
<circle cx="516" cy="157" r="3.6" fill="#fff" stroke="#dc1e2a" stroke-width="1.2"/>
<circle cx="518.9" cy="137.8" r="3.6" fill="#fff" stroke="#dc1e2a" stroke-width="1.2"/>
<circle cx="523" cy="125.3" r="3.6" fill="#fff" stroke="#dc1e2a" stroke-width="1.2"/>
<circle cx="524.4" cy="112.8" r="3.6" fill="#fff" stroke="#dc1e2a" stroke-width="1.2"/>
<circle cx="527.2" cy="98.9" r="3.6" fill="#fff" stroke="#dc1e2a" stroke-width="1.2"/>
<circle cx="528.6" cy="90.6" r="3.6" fill="#fff" stroke="#dc1e2a" stroke-width="1.2"/>
<circle cx="532.8" cy="82" r="3.6" fill="#fff" stroke="#dc1e2a" stroke-width="1.2"/>
<circle cx="536" cy="84" r="3.6" fill="#fff" stroke="#dc1e2a" stroke-width="1.2"/>
<circle cx="538.3" cy="101.7" r="3.6" fill="#fff" stroke="#dc1e2a" stroke-width="1.2"/>
<circle cx="541.1" cy="125.3" r="3.6" fill="#fff" stroke="#dc1e2a" stroke-width="1.2"/>
<circle cx="543.9" cy="148.9" r="3.6" fill="#fff" stroke="#dc1e2a" stroke-width="1.2"/>
<circle cx="546" cy="175" r="3.6" fill="#fff" stroke="#dc1e2a" stroke-width="1.2"/>
<circle cx="549.4" cy="203.1" r="3.6" fill="#fff" stroke="#dc1e2a" stroke-width="1.2"/>
<circle cx="552" cy="222" r="3.6" fill="#fff" stroke="#dc1e2a" stroke-width="1.2"/>
<circle cx="555" cy="238.5" r="3.6" fill="#fff" stroke="#dc1e2a" stroke-width="1.2"/>
<circle cx="562" cy="246.3" r="3.6" fill="#fff" stroke="#dc1e2a" stroke-width="1.2"/>
<polyline points="398,246.3 403.4,246.3 408.4,246.3 412.2,246.3 415.8,246.3 417.6,191 419,244.5 424,226.1 422.4,217.1 428.5,211.1 425,205.1 431,202 435.7,198.6 441,199.4 445.6,194 449.4,200.5 452.7,211.3 457,214.6 460.2,222.1 463.5,227.5 466.7,230.8 470,233 474.3,230.8 478.6,230.8 482.9,233 488.3,226.4 492.6,218.9 494.2,210.6 498.3,203.6 502.5,196.7 506.7,192.5 510.1,182.6 515.5,178.3 514.4,171.8 517.7,163.2 519.8,152.4 516.6,151.3 521.7,139.2 517.5,136.4 523,129.4 524.4,123.9 525.8,112.8 528.6,104.4 530,97.5 532.8,85 534.2,82.2 535.6,78 537,69.7 539.7,89.2 539.7,97.5 545.3,130.8 549.4,177.9 554.7,221.7 562.1,246.3 570.5,246.3 579,246.3 590,246.3 604.5,246.3" fill="none" stroke="#000000" stroke-width="1.0" stroke-linejoin="round" />
<rect x="394.9" y="243.2" width="6.2" height="6.2" fill="#fff" stroke="#000000" stroke-width="1.2"/>
<rect x="400.3" y="243.2" width="6.2" height="6.2" fill="#fff" stroke="#000000" stroke-width="1.2"/>
<rect x="405.3" y="243.2" width="6.2" height="6.2" fill="#fff" stroke="#000000" stroke-width="1.2"/>
<rect x="409.1" y="243.2" width="6.2" height="6.2" fill="#fff" stroke="#000000" stroke-width="1.2"/>
<rect x="412.7" y="243.2" width="6.2" height="6.2" fill="#fff" stroke="#000000" stroke-width="1.2"/>
<rect x="414.5" y="187.9" width="6.2" height="6.2" fill="#fff" stroke="#000000" stroke-width="1.2"/>
<rect x="415.9" y="241.4" width="6.2" height="6.2" fill="#fff" stroke="#000000" stroke-width="1.2"/>
<rect x="420.9" y="223" width="6.2" height="6.2" fill="#fff" stroke="#000000" stroke-width="1.2"/>
<rect x="419.3" y="214" width="6.2" height="6.2" fill="#fff" stroke="#000000" stroke-width="1.2"/>
<rect x="425.4" y="208" width="6.2" height="6.2" fill="#fff" stroke="#000000" stroke-width="1.2"/>
<rect x="421.9" y="202" width="6.2" height="6.2" fill="#fff" stroke="#000000" stroke-width="1.2"/>
<rect x="427.9" y="198.9" width="6.2" height="6.2" fill="#fff" stroke="#000000" stroke-width="1.2"/>
<rect x="432.6" y="195.5" width="6.2" height="6.2" fill="#fff" stroke="#000000" stroke-width="1.2"/>
<rect x="437.9" y="196.3" width="6.2" height="6.2" fill="#fff" stroke="#000000" stroke-width="1.2"/>
<rect x="442.5" y="190.9" width="6.2" height="6.2" fill="#fff" stroke="#000000" stroke-width="1.2"/>
<rect x="446.3" y="197.4" width="6.2" height="6.2" fill="#fff" stroke="#000000" stroke-width="1.2"/>
<rect x="449.6" y="208.2" width="6.2" height="6.2" fill="#fff" stroke="#000000" stroke-width="1.2"/>
<rect x="453.9" y="211.5" width="6.2" height="6.2" fill="#fff" stroke="#000000" stroke-width="1.2"/>
<rect x="457.1" y="219" width="6.2" height="6.2" fill="#fff" stroke="#000000" stroke-width="1.2"/>
<rect x="460.4" y="224.4" width="6.2" height="6.2" fill="#fff" stroke="#000000" stroke-width="1.2"/>
<rect x="463.6" y="227.7" width="6.2" height="6.2" fill="#fff" stroke="#000000" stroke-width="1.2"/>
<rect x="466.9" y="229.9" width="6.2" height="6.2" fill="#fff" stroke="#000000" stroke-width="1.2"/>
<rect x="471.2" y="227.7" width="6.2" height="6.2" fill="#fff" stroke="#000000" stroke-width="1.2"/>
<rect x="475.5" y="227.7" width="6.2" height="6.2" fill="#fff" stroke="#000000" stroke-width="1.2"/>
<rect x="479.8" y="229.9" width="6.2" height="6.2" fill="#fff" stroke="#000000" stroke-width="1.2"/>
<rect x="485.2" y="223.3" width="6.2" height="6.2" fill="#fff" stroke="#000000" stroke-width="1.2"/>
<rect x="489.5" y="215.8" width="6.2" height="6.2" fill="#fff" stroke="#000000" stroke-width="1.2"/>
<rect x="491.1" y="207.5" width="6.2" height="6.2" fill="#fff" stroke="#000000" stroke-width="1.2"/>
<rect x="495.2" y="200.5" width="6.2" height="6.2" fill="#fff" stroke="#000000" stroke-width="1.2"/>
<rect x="499.4" y="193.6" width="6.2" height="6.2" fill="#fff" stroke="#000000" stroke-width="1.2"/>
<rect x="503.6" y="189.4" width="6.2" height="6.2" fill="#fff" stroke="#000000" stroke-width="1.2"/>
<rect x="507" y="179.5" width="6.2" height="6.2" fill="#fff" stroke="#000000" stroke-width="1.2"/>
<rect x="512.4" y="175.2" width="6.2" height="6.2" fill="#fff" stroke="#000000" stroke-width="1.2"/>
<rect x="511.3" y="168.7" width="6.2" height="6.2" fill="#fff" stroke="#000000" stroke-width="1.2"/>
<rect x="514.6" y="160.1" width="6.2" height="6.2" fill="#fff" stroke="#000000" stroke-width="1.2"/>
<rect x="516.7" y="149.3" width="6.2" height="6.2" fill="#fff" stroke="#000000" stroke-width="1.2"/>
<rect x="513.5" y="148.2" width="6.2" height="6.2" fill="#fff" stroke="#000000" stroke-width="1.2"/>
<rect x="518.6" y="136.1" width="6.2" height="6.2" fill="#fff" stroke="#000000" stroke-width="1.2"/>
<rect x="514.4" y="133.3" width="6.2" height="6.2" fill="#fff" stroke="#000000" stroke-width="1.2"/>
<rect x="519.9" y="126.3" width="6.2" height="6.2" fill="#fff" stroke="#000000" stroke-width="1.2"/>
<rect x="521.3" y="120.8" width="6.2" height="6.2" fill="#fff" stroke="#000000" stroke-width="1.2"/>
<rect x="522.7" y="109.7" width="6.2" height="6.2" fill="#fff" stroke="#000000" stroke-width="1.2"/>
<rect x="525.5" y="101.3" width="6.2" height="6.2" fill="#fff" stroke="#000000" stroke-width="1.2"/>
<rect x="526.9" y="94.4" width="6.2" height="6.2" fill="#fff" stroke="#000000" stroke-width="1.2"/>
<rect x="529.7" y="81.9" width="6.2" height="6.2" fill="#fff" stroke="#000000" stroke-width="1.2"/>
<rect x="531.1" y="79.1" width="6.2" height="6.2" fill="#fff" stroke="#000000" stroke-width="1.2"/>
<rect x="532.5" y="74.9" width="6.2" height="6.2" fill="#fff" stroke="#000000" stroke-width="1.2"/>
<rect x="533.9" y="66.6" width="6.2" height="6.2" fill="#fff" stroke="#000000" stroke-width="1.2"/>
<rect x="536.6" y="86.1" width="6.2" height="6.2" fill="#fff" stroke="#000000" stroke-width="1.2"/>
<rect x="536.6" y="94.4" width="6.2" height="6.2" fill="#fff" stroke="#000000" stroke-width="1.2"/>
<rect x="542.2" y="127.7" width="6.2" height="6.2" fill="#fff" stroke="#000000" stroke-width="1.2"/>
<rect x="546.3" y="174.8" width="6.2" height="6.2" fill="#fff" stroke="#000000" stroke-width="1.2"/>
<rect x="551.6" y="218.6" width="6.2" height="6.2" fill="#fff" stroke="#000000" stroke-width="1.2"/>
<rect x="559" y="243.2" width="6.2" height="6.2" fill="#fff" stroke="#000000" stroke-width="1.2"/>
<rect x="567.4" y="243.2" width="6.2" height="6.2" fill="#fff" stroke="#000000" stroke-width="1.2"/>
<rect x="575.9" y="243.2" width="6.2" height="6.2" fill="#fff" stroke="#000000" stroke-width="1.2"/>
<rect x="586.9" y="243.2" width="6.2" height="6.2" fill="#fff" stroke="#000000" stroke-width="1.2"/>
<rect x="601.4" y="243.2" width="6.2" height="6.2" fill="#fff" stroke="#000000" stroke-width="1.2"/>
<rect x="533.4" y="70.4" width="6.2" height="6.2" fill="#fff" stroke="#000000" stroke-width="1.2"/>
<rect x="530.4" y="77.9" width="6.2" height="6.2" fill="#fff" stroke="#000000" stroke-width="1.2"/>
<rect x="605.4" y="236" width="12" height="20" fill="#fff"/>
<rect x="387.5" y="46.5" width="217.0" height="211.8" fill="none" stroke="#000" stroke-width="1.6"/>
<line x1="401.1" y1="61.5" x2="436.7" y2="61.5" stroke="#000000" stroke-width="1.0"/>
<rect x="415.8" y="58.2" width="6.6" height="6.6" fill="#fff" stroke="#000000" stroke-width="1.2"/>
<line x1="401.1" y1="79.3" x2="436.7" y2="79.3" stroke="#dc1e2a" stroke-width="1.0"/>
<circle cx="419.1" cy="79.3" r="3.4" fill="#fff" stroke="#dc1e2a" stroke-width="1.2"/>
<line x1="401.1" y1="98.5" x2="436.7" y2="98.5" stroke="#2ee02e" stroke-width="1.0"/>
<path d="M414.7,100.81 L419.1,93.19 L423.5,100.81 Z" fill="#fff" stroke="#2ee02e" stroke-width="1.2"/>
<text transform="translate(441,65.8) scale(1,1.04)" font-size="15.3" text-anchor="start" font-weight="normal" >MC</text>
<text transform="translate(441,84.3) scale(1,1.04)" font-size="15.3" text-anchor="start" font-weight="normal" >MC-A</text>
<text transform="translate(441,102.9) scale(1,1.04)" font-size="15.3" text-anchor="start" font-weight="normal" >MC-G</text>
<text transform="translate(381,251.8) scale(1,1.08)" font-size="19.2" text-anchor="end" font-weight="normal" >0.00</text>
<text transform="translate(381,201.8) scale(1,1.08)" font-size="19.2" text-anchor="end" font-weight="normal" >0.05</text>
<text transform="translate(381,151.8) scale(1,1.08)" font-size="19.2" text-anchor="end" font-weight="normal" >0.10</text>
<text transform="translate(381,101.8) scale(1,1.08)" font-size="19.2" text-anchor="end" font-weight="normal" >0.15</text>
<text transform="translate(381,51.8) scale(1,1.08)" font-size="19.2" text-anchor="end" font-weight="normal" >0.20</text>
<text transform="translate(388.1,278.8) scale(1,1.1)" font-size="18.5" text-anchor="middle" font-weight="normal" >1</text>
<text transform="translate(434.58,278.8) scale(1,1.1)" font-size="18.5" text-anchor="middle" font-weight="normal" >2</text>
<text transform="translate(481.06,278.8) scale(1,1.1)" font-size="18.5" text-anchor="middle" font-weight="normal" >4</text>
<text transform="translate(542.5,278.8) scale(1,1.1)" font-size="18.5" text-anchor="middle" font-weight="normal" >10</text>
<text transform="translate(489.6,301.5) scale(1,1.07)" font-size="20.2" text-anchor="middle" font-weight="normal" >Pore width (nm)</text>
<text transform="translate(334.2,163.5) rotate(-90) scale(1,1.05)" font-size="20.15" text-anchor="middle" font-weight="normal" >Diff. Pore Volume (cm<tspan font-size="11.5" dy="-7.5">3</tspan><tspan dy="7.5">/g nm)</tspan></text>
<text transform="translate(330,25)" font-size="29" text-anchor="middle" font-weight="bold" >b</text>
<line x1="689.5" y1="254.3" x2="689.5" y2="258.3" stroke="#000000" stroke-width="1.0"/>
<line x1="716.07" y1="254.3" x2="716.07" y2="256.8" stroke="#000000" stroke-width="1.0"/>
<line x1="742.64" y1="254.3" x2="742.64" y2="258.3" stroke="#000000" stroke-width="1.0"/>
<line x1="769.21" y1="254.3" x2="769.21" y2="256.8" stroke="#000000" stroke-width="1.0"/>
<line x1="795.79" y1="254.3" x2="795.79" y2="258.3" stroke="#000000" stroke-width="1.0"/>
<line x1="822.36" y1="254.3" x2="822.36" y2="256.8" stroke="#000000" stroke-width="1.0"/>
<line x1="848.93" y1="254.3" x2="848.93" y2="258.3" stroke="#000000" stroke-width="1.0"/>
<line x1="875.5" y1="254.3" x2="875.5" y2="256.8" stroke="#000000" stroke-width="1.0"/>
<line x1="689.5" y1="237.5" x2="685" y2="237.5" stroke="#000000" stroke-width="1.0"/>
<line x1="689.5" y1="221.49" x2="687" y2="221.49" stroke="#000000" stroke-width="1.0"/>
<line x1="689.5" y1="205.48" x2="685" y2="205.48" stroke="#000000" stroke-width="1.0"/>
<line x1="689.5" y1="189.47" x2="687" y2="189.47" stroke="#000000" stroke-width="1.0"/>
<line x1="689.5" y1="173.47" x2="685" y2="173.47" stroke="#000000" stroke-width="1.0"/>
<line x1="689.5" y1="157.46" x2="687" y2="157.46" stroke="#000000" stroke-width="1.0"/>
<line x1="689.5" y1="141.45" x2="685" y2="141.45" stroke="#000000" stroke-width="1.0"/>
<line x1="689.5" y1="125.44" x2="687" y2="125.44" stroke="#000000" stroke-width="1.0"/>
<line x1="689.5" y1="109.43" x2="685" y2="109.43" stroke="#000000" stroke-width="1.0"/>
<line x1="689.5" y1="93.43" x2="687" y2="93.43" stroke="#000000" stroke-width="1.0"/>
<line x1="689.5" y1="77.42" x2="685" y2="77.42" stroke="#000000" stroke-width="1.0"/>
<line x1="689.5" y1="61.41" x2="687" y2="61.41" stroke="#000000" stroke-width="1.0"/>
<line x1="689.5" y1="45.4" x2="685" y2="45.4" stroke="#000000" stroke-width="1.0"/>
<path d="M859.4,78 L857.5,81.11 L855.5,84.35 L853.5,87.57 L851.5,90.75 L849.5,93.91 L847.5,97.03 L845.5,100.13 L843.5,103.2 L841.5,106.24 L839.5,109.24 L837.5,112.22 L835.5,115.17 L833.5,118.09 L831.5,120.97 L829.5,123.83 L827.5,126.66 L825.5,129.45 L823.5,132.22 L821.5,134.95 L819.5,137.66 L817.5,140.33 L815.5,142.97 L813.5,145.58 L811.5,148.16 L809.5,150.71 L807.5,153.22 L805.5,155.71 L803.5,158.16 L801.5,160.58 L799.5,162.97 L797.5,165.32 L795.5,167.64 L793.5,169.93 L791.5,172.19 L789.5,174.42 L787.5,176.61 L785.5,178.77 L783.5,180.89 L781.5,182.98 L779.5,185.04 L777.5,187.06 L775.5,189.05 L773.5,191 L771.5,192.92 L769.5,194.81 L767.5,196.66 L765.5,198.47 L763.5,200.25 L761.5,202 L759.5,203.71 L757.5,205.38 L755.5,207.01 L753.5,208.61 L751.5,210.17 L749.5,211.7 L747.5,213.18 L745.5,214.63 L743.5,216.04 L741.5,217.41 L739.5,218.74 L737.5,220.04 L735.5,221.29 L733.5,222.5 L731.5,223.68 L729.5,224.81 L727.5,225.9 L725.5,226.95 L723.5,227.95 L721.5,228.91 L719.5,229.83 L717.5,230.7 L715.5,231.53 L713.5,232.31 L711.5,233.04 L709.5,233.73 L707.5,234.36 L705.5,234.95 L703.5,235.48 L701.5,235.96 L699.5,236.38 L697.5,236.74 L695.5,237.04 L693.5,237.27 L691.5,237.43 L689.5,237.5" fill="none" stroke="#dc1e2a" stroke-width="3.6" stroke-linecap="butt" stroke-linejoin="round" stroke-dasharray="4.5,7.5"/>
<path d="M860.4,78 L858.81,81.57 L857.2,85.14 L855.58,88.71 L853.94,92.28 L852.27,95.85 L850.59,99.42 L848.87,102.98 L847.13,106.55 L845.35,110.12 L843.54,113.69 L841.69,117.26 L839.8,120.83 L837.87,124.4 L835.9,127.97 L833.88,131.54 L831.8,135.11 L829.68,138.68 L827.5,142.25 L825.26,145.82 L822.97,149.38 L820.61,152.95 L818.18,156.52 L815.69,160.09 L813.13,163.66 L810.49,167.23 L807.78,170.8 L804.99,174.37 L802.12,177.94 L799.17,181.51 L796.13,185.08 L793.01,188.65 L789.79,192.22 L786.48,195.78 L783.08,199.35 L779.57,202.92 L775.97,206.49 L772.26,210.06 L768.45,213.63 L764.53,217.2" fill="none" stroke="#dc1e2a" stroke-width="3.6" stroke-linecap="butt" stroke-linejoin="round" stroke-dasharray="4.5,7.5"/>
<path d="M827.8,80.6 L827.5,81.23 L825.5,85.39 L823.5,89.51 L821.5,93.57 L819.5,97.57 L817.5,101.53 L815.5,105.44 L813.5,109.29 L811.5,113.09 L809.5,116.83 L807.5,120.53 L805.5,124.17 L803.5,127.76 L801.5,131.29 L799.5,134.77 L797.5,138.2 L795.5,141.58 L793.5,144.9 L791.5,148.17 L789.5,151.38 L787.5,154.54 L785.5,157.64 L783.5,160.7 L781.5,163.69 L779.5,166.63 L777.5,169.52 L775.5,172.35 L773.5,175.12 L771.5,177.84 L769.5,180.51 L767.5,183.12 L765.5,185.67 L763.5,188.16 L761.5,190.6 L759.5,192.98 L757.5,195.31 L755.5,197.57 L753.5,199.78 L751.5,201.93 L749.5,204.03 L747.5,206.06 L745.5,208.04 L743.5,209.96 L741.5,211.81 L739.5,213.61 L737.5,215.35 L735.5,217.03 L733.5,218.64 L731.5,220.2 L729.5,221.69 L727.5,223.12 L725.5,224.49 L723.5,225.8 L721.5,227.04 L719.5,228.22 L717.5,229.33 L715.5,230.37 L713.5,231.36 L711.5,232.27 L709.5,233.11 L707.5,233.89 L705.5,234.6 L703.5,235.23 L701.5,235.8 L699.5,236.28 L697.5,236.69 L695.5,237.03 L693.5,237.28 L691.5,237.44 L689.5,237.5" fill="none" stroke="#2ee02e" stroke-width="3.4" stroke-linecap="butt" stroke-linejoin="round" stroke-dasharray="13,7.5,3.5,7.5"/>
<path d="M749.24,221.5 L753.04,217.89 L756.68,214.27 L760.18,210.66 L763.54,207.05 L766.77,203.44 L769.86,199.82 L772.83,196.21 L775.68,192.6 L778.41,188.98 L781.03,185.37 L783.54,181.76 L785.94,178.15 L788.25,174.53 L790.47,170.92 L792.59,167.31 L794.63,163.69 L796.59,160.08 L798.48,156.47 L800.29,152.86 L802.04,149.24 L803.72,145.63 L805.35,142.02 L806.93,138.41 L808.45,134.79 L809.94,131.18 L811.38,127.57 L812.79,123.95 L814.17,120.34 L815.53,116.73 L816.86,113.12 L818.18,109.5 L819.49,105.89 L820.79,102.28 L822.08,98.66 L823.38,95.05 L824.69,91.44 L826.01,87.83 L827.34,84.21 L828.7,80.6" fill="none" stroke="#2ee02e" stroke-width="3.4" stroke-linecap="butt" stroke-linejoin="round" stroke-dasharray="13,7.5,3.5,7.5"/>
<path d="M689.5,237.5 L691.5,237.43 L693.5,237.27 L695.5,237.03 L697.5,236.7 L699.5,236.31 L701.5,235.85 L703.5,235.32 L705.5,234.73 L707.5,234.07 L709.5,233.36 L711.5,232.58 L713.5,231.75 L715.5,230.86 L717.5,229.91 L719.5,228.91 L721.5,227.85 L723.5,226.74 L725.5,225.57 L727.5,224.35 L729.5,223.08 L731.5,221.76 L733.5,220.38 L735.5,218.96 L737.5,217.48 L739.5,215.96 L741.5,214.38 L743.5,212.75 L745.5,211.08 L747.5,209.36 L749.5,207.59 L751.5,205.77 L753.5,203.9 L755.5,201.99 L757.5,200.03 L759.5,198.02 L761.5,195.97 L763.5,193.87 L765.5,191.72 L767.5,189.53 L769.5,187.29 L771.5,185.01 L773.5,182.69 L775.5,180.31 L777.5,177.9 L779.5,175.44 L781.5,172.93 L783.5,170.39 L785.5,167.79 L787.5,165.16 L789.5,162.48 L791.5,159.76 L793.5,156.99 L795.5,154.18 L797.5,151.33 L799.5,148.44 L801.5,145.5 L803.5,142.52 L805.5,139.5 L807.5,136.44 L809.5,133.34 L811.5,130.19 L813.5,127 L815.5,123.78 L817.5,120.51 L819.5,117.19 L821.5,113.84 L823.5,110.45 L825.5,107.02 L827.5,103.54 L829.5,100.03 L831.5,96.47 L833.5,92.88 L835.5,89.24 L837.5,85.56 L839.5,81.85 L840.7,79.6" fill="none" stroke="#000000" stroke-width="3.5" stroke-linecap="round" stroke-linejoin="round"/>
<path d="M840.91,79.6 L839.33,83.27 L837.77,86.94 L836.23,90.62 L834.7,94.29 L833.18,97.96 L831.66,101.63 L830.14,105.3 L828.61,108.97 L827.07,112.65 L825.51,116.32 L823.93,119.99 L822.33,123.66 L820.7,127.33 L819.03,131.01 L817.32,134.68 L815.57,138.35 L813.77,142.02 L811.92,145.69 L810.01,149.36 L808.03,153.04 L805.99,156.71 L803.87,160.38 L801.68,164.05 L799.4,167.72 L797.04,171.39 L794.59,175.07 L792.04,178.74 L789.39,182.41 L786.64,186.08 L783.78,189.75 L780.8,193.43 L777.7,197.1 L774.48,200.77 L771.13,204.44 L767.64,208.11 L764.02,211.78 L760.26,215.46 L756.34,219.13 L752.28,222.8" fill="none" stroke="#000000" stroke-width="3.5" stroke-linecap="round" stroke-linejoin="round"/>
<path d="M685.0,45.4 H875.5 V254.3 H687.5 M689.5,45.4 V258.3" fill="none" stroke="#000" stroke-width="1.1"/>
<line x1="696" y1="62.7" x2="727" y2="62.7" stroke="#000000" stroke-width="4.0"/>
<path d="M696,81 H727" stroke="#dc1e2a" stroke-width="3.6" stroke-dasharray="4.6,6.4" fill="none"/>
<path d="M696,99 H727" stroke="#2ee02e" stroke-width="3.6" stroke-dasharray="14.5,6.5,3.5,20" fill="none"/>
<text transform="translate(729.4,68) scale(1,1.1)" font-size="13.4" text-anchor="start" font-weight="normal" >MC</text>
<text transform="translate(729.4,86.3) scale(1,1.1)" font-size="13.4" text-anchor="start" font-weight="normal" >MC-A</text>
<text transform="translate(729.4,104.2) scale(1,1.1)" font-size="13.4" text-anchor="start" font-weight="normal" >MC-G</text>
<text transform="translate(683,243.5) scale(1,1.08)" font-size="18.5" text-anchor="end" font-weight="normal" >0</text>
<text transform="translate(683,211.48) scale(1,1.08)" font-size="18.5" text-anchor="end" font-weight="normal" >1</text>
<text transform="translate(683,179.47) scale(1,1.08)" font-size="18.5" text-anchor="end" font-weight="normal" >2</text>
<text transform="translate(683,147.45) scale(1,1.08)" font-size="18.5" text-anchor="end" font-weight="normal" >3</text>
<text transform="translate(683,115.43) scale(1,1.08)" font-size="18.5" text-anchor="end" font-weight="normal" >4</text>
<text transform="translate(683,83.42) scale(1,1.08)" font-size="18.5" text-anchor="end" font-weight="normal" >5</text>
<text transform="translate(683,51.4) scale(1,1.08)" font-size="18.5" text-anchor="end" font-weight="normal" >6</text>
<text transform="translate(689.5,278.6) scale(1,1.1)" font-size="18.5" text-anchor="middle" font-weight="normal" >0</text>
<text transform="translate(742.64,278.6) scale(1,1.1)" font-size="18.5" text-anchor="middle" font-weight="normal" >200</text>
<text transform="translate(795.79,278.6) scale(1,1.1)" font-size="18.5" text-anchor="middle" font-weight="normal" >400</text>
<text transform="translate(848.93,278.6) scale(1,1.1)" font-size="18.5" text-anchor="middle" font-weight="normal" >600</text>
<text transform="translate(782.5,311.7) scale(1,1.05)" font-size="18.6" text-anchor="middle" font-weight="normal" >Displacement (nm)</text>
<text transform="translate(651,158) rotate(-90)" font-size="20.5" text-anchor="middle" font-weight="normal" >Load (mN)</text>
<text transform="translate(642.5,25)" font-size="29" text-anchor="middle" font-weight="bold" >c</text>
</svg></body></html>
